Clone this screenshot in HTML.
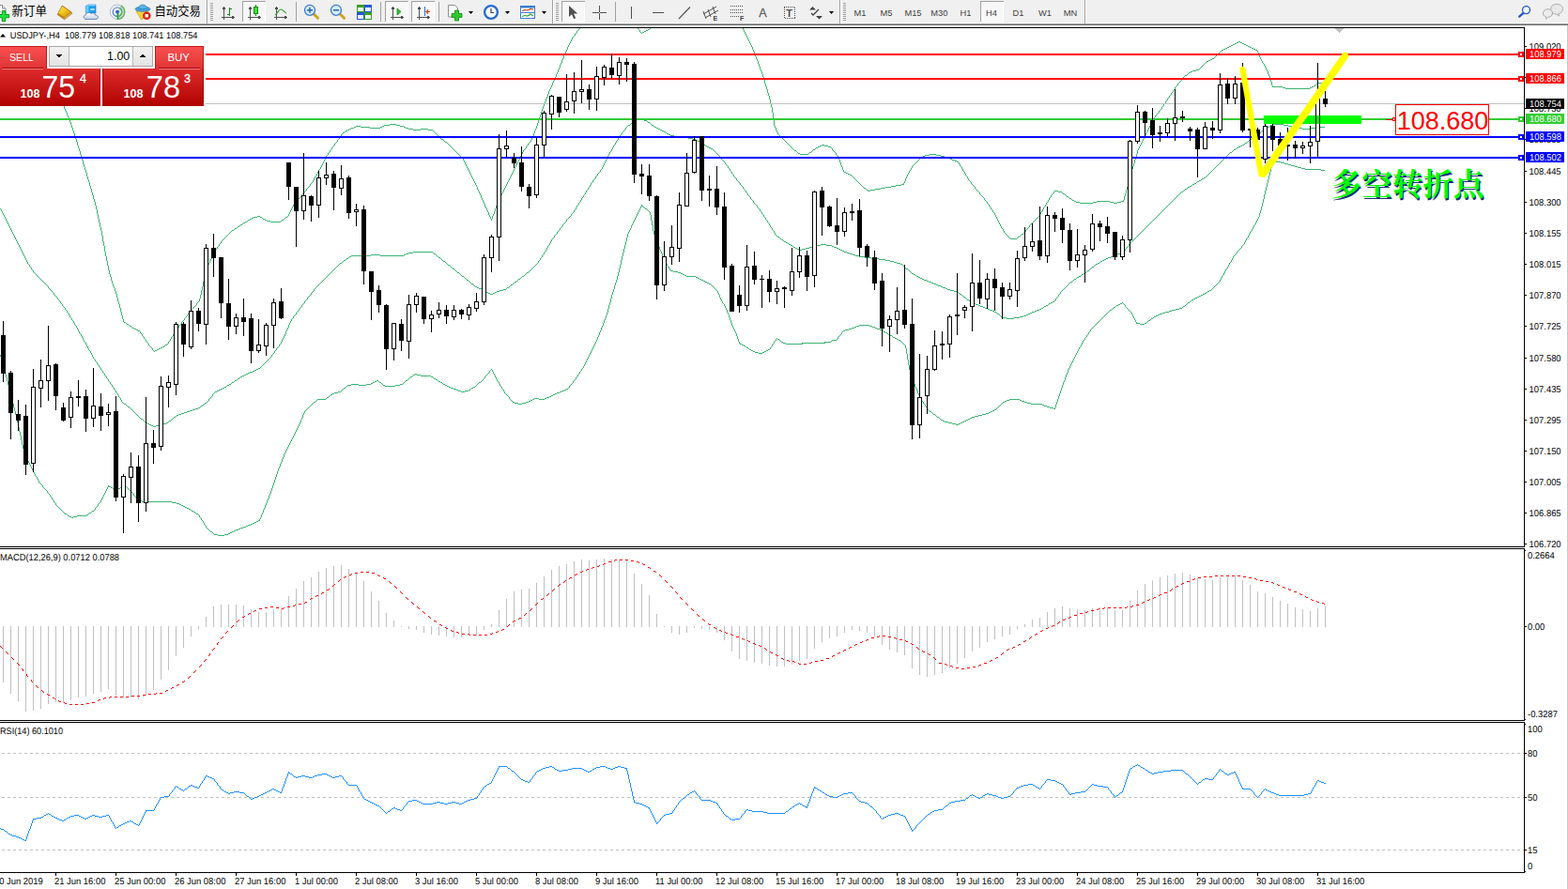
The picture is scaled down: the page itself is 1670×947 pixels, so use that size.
<!DOCTYPE html><html><head><meta charset="utf-8"><title>USDJPY-,H4</title><style>
html,body{margin:0;padding:0;background:#fff;overflow:hidden}body{width:1670px;height:947px;position:relative;font-family:"Liberation Sans",sans-serif}svg{position:absolute;left:0;top:0;display:block}text{font-family:"Liberation Sans",sans-serif}.ax{font-size:9px;fill:#000;text-rendering:geometricPrecision}.c{shape-rendering:crispEdges}
</style></head><body>
<svg width="1670" height="947" viewBox="0 0 1670 947">
<rect width="1670" height="947" fill="#fff"/>
<path class="c" fill="#3cb371" d="M0 378h1v2h-1zM1 223h1v2h-1zM1 380h1v4h-1zM2 225h1v2h-1zM2 384h1v4h-1zM3 227h1v2h-1zM3 388h1v3h-1zM4 229h1v2h-1zM4 391h1v4h-1zM5 231h1v2h-1zM5 395h1v4h-1zM6 233h1v2h-1zM6 399h1v3h-1zM7 235h1v2h-1zM7 402h1v4h-1zM8 237h1v2h-1zM8 406h1v4h-1zM9 239h1v2h-1zM9 410h1v4h-1zM10 241h1v2h-1zM10 414h1v4h-1zM11 243h1v2h-1zM11 418h1v4h-1zM12 245h1v2h-1zM12 422h1v4h-1zM13 247h1v2h-1zM13 426h1v4h-1zM14 249h1v2h-1zM14 430h1v4h-1zM15 251h1v2h-1zM15 434h1v4h-1zM16 253h1v2h-1zM16 438h1v4h-1zM17 255h1v2h-1zM17 442h1v4h-1zM18 257h1v2h-1zM18 446h1v4h-1zM19 259h1v2h-1zM19 450h1v5h-1zM20 261h1v2h-1zM20 455h1v5h-1zM21 263h1v2h-1zM21 460h1v4h-1zM22 265h1v2h-1zM22 464h1v5h-1zM23 267h1v2h-1zM23 469h1v5h-1zM24 269h1v2h-1zM24 474h1v4h-1zM25 271h1v2h-1zM25 478h1v2h-1zM26 273h1v2h-1zM26 480h1v3h-1zM27 275h1v2h-1zM27 483h1v3h-1zM28 277h1v2h-1zM28 486h1v2h-1zM29 279h1v2h-1zM29 488h1v3h-1zM30 491h1v2h-1zM31 282h1v2h-1zM31 493h1v2h-1zM32 495h1v2h-1zM33 285h1v2h-1zM33 497h1v2h-1zM34 499h1v2h-1zM35 288h1v2h-1zM35 501h1v2h-1zM36 503h1v2h-1zM37 505h1v2h-1zM39 508h1v2h-1zM40 510h1v2h-1zM41 512h1v2h-1zM45 517h1v2h-1zM50 70h1v2h-1zM50 523h1v2h-1zM51 72h1v2h-1zM51 305h1v2h-1zM52 74h1v2h-1zM53 76h1v3h-1zM53 527h1v2h-1zM54 79h1v2h-1zM55 81h1v3h-1zM55 530h1v2h-1zM56 84h1v2h-1zM57 86h1v2h-1zM57 312h1v2h-1zM57 533h1v2h-1zM58 88h1v3h-1zM59 91h1v2h-1zM59 536h1v2h-1zM60 93h1v3h-1zM61 96h1v2h-1zM61 317h1v2h-1zM62 98h1v3h-1zM63 101h1v2h-1zM64 103h1v3h-1zM64 321h1v2h-1zM65 106h1v2h-1zM66 108h1v3h-1zM66 324h1v2h-1zM67 111h1v2h-1zM68 113h1v3h-1zM69 116h1v2h-1zM69 328h1v2h-1zM70 118h1v2h-1zM71 120h1v3h-1zM71 331h1v2h-1zM72 123h1v2h-1zM73 125h1v2h-1zM73 334h1v2h-1zM74 127h1v3h-1zM74 336h1v2h-1zM75 130h1v3h-1zM76 133h1v3h-1zM76 339h1v2h-1zM77 136h1v3h-1zM78 139h1v3h-1zM78 342h1v2h-1zM79 142h1v3h-1zM79 344h1v2h-1zM80 145h1v3h-1zM81 148h1v3h-1zM81 347h1v2h-1zM82 151h1v4h-1zM82 349h1v2h-1zM83 155h1v3h-1zM83 351h1v2h-1zM84 158h1v3h-1zM84 353h1v2h-1zM85 161h1v4h-1zM86 165h1v3h-1zM86 356h1v2h-1zM87 168h1v3h-1zM87 358h1v2h-1zM88 171h1v4h-1zM88 360h1v2h-1zM89 175h1v3h-1zM89 362h1v2h-1zM90 178h1v3h-1zM91 181h1v3h-1zM91 365h1v2h-1zM92 184h1v4h-1zM92 367h1v2h-1zM93 188h1v3h-1zM93 369h1v2h-1zM94 191h1v3h-1zM94 371h1v2h-1zM95 194h1v4h-1zM96 198h1v3h-1zM96 374h1v2h-1zM97 201h1v4h-1zM97 376h1v2h-1zM98 205h1v3h-1zM98 378h1v2h-1zM99 208h1v4h-1zM99 380h1v2h-1zM100 212h1v3h-1zM101 215h1v4h-1zM101 383h1v2h-1zM101 541h1v2h-1zM102 219h1v4h-1zM103 223h1v5h-1zM103 386h1v2h-1zM104 228h1v5h-1zM104 537h1v2h-1zM105 233h1v4h-1zM105 389h1v2h-1zM106 237h1v5h-1zM107 242h1v4h-1zM107 392h1v2h-1zM107 533h1v2h-1zM108 246h1v5h-1zM108 531h1v2h-1zM109 251h1v6h-1zM109 395h1v2h-1zM109 529h1v2h-1zM110 257h1v5h-1zM110 527h1v2h-1zM111 262h1v6h-1zM111 398h1v2h-1zM111 525h1v2h-1zM112 268h1v5h-1zM112 523h1v2h-1zM113 273h1v5h-1zM113 401h1v2h-1zM113 521h1v2h-1zM114 278h1v5h-1zM114 519h1v2h-1zM115 283h1v5h-1zM115 404h1v2h-1zM115 517h1v2h-1zM116 288h1v4h-1zM117 292h1v3h-1zM117 407h1v2h-1zM118 295h1v4h-1zM119 299h1v3h-1zM119 410h1v2h-1zM120 302h1v3h-1zM121 305h1v2h-1zM121 413h1v2h-1zM122 307h1v3h-1zM123 310h1v3h-1zM123 416h1v2h-1zM124 313h1v4h-1zM125 317h1v4h-1zM125 419h1v2h-1zM126 321h1v3h-1zM126 421h1v2h-1zM127 324h1v4h-1zM128 328h1v4h-1zM128 424h1v2h-1zM129 332h1v4h-1zM129 426h1v2h-1zM130 336h1v4h-1zM131 340h1v3h-1zM142 526h1v2h-1zM145 530h1v2h-1zM149 353h1v2h-1zM151 356h1v2h-1zM153 359h1v2h-1zM155 362h1v2h-1zM158 366h1v2h-1zM162 371h1v2h-1zM179 364h1v2h-1zM181 361h1v2h-1zM182 359h1v2h-1zM184 356h1v2h-1zM186 353h1v2h-1zM187 351h1v2h-1zM190 347h1v2h-1zM193 343h1v2h-1zM196 339h1v2h-1zM199 335h1v2h-1zM203 330h1v2h-1zM209 323h1v2h-1zM212 318h1v3h-1zM212 549h1v2h-1zM213 314h1v4h-1zM214 309h1v5h-1zM214 552h1v2h-1zM215 305h1v4h-1zM216 300h1v5h-1zM216 555h1v2h-1zM217 296h1v4h-1zM217 557h1v2h-1zM218 291h1v5h-1zM219 287h1v4h-1zM219 560h1v2h-1zM220 284h1v3h-1zM221 282h1v2h-1zM222 280h1v2h-1zM222 425h1v2h-1zM223 278h1v2h-1zM224 276h1v2h-1zM225 274h1v2h-1zM226 272h1v2h-1zM226 420h1v2h-1zM227 270h1v2h-1zM228 268h1v2h-1zM229 266h1v2h-1zM231 263h1v2h-1zM233 260h1v2h-1zM235 257h1v2h-1zM276 553h1v2h-1zM277 551h1v2h-1zM278 548h1v3h-1zM279 546h1v2h-1zM280 543h1v3h-1zM281 541h1v2h-1zM282 538h1v3h-1zM283 536h1v2h-1zM284 533h1v3h-1zM285 531h1v2h-1zM286 528h1v3h-1zM287 526h1v2h-1zM288 523h1v3h-1zM289 378h1v2h-1zM289 520h1v3h-1zM290 517h1v3h-1zM291 514h1v3h-1zM292 374h1v2h-1zM292 511h1v3h-1zM293 508h1v3h-1zM294 371h1v2h-1zM294 505h1v3h-1zM295 502h1v3h-1zM296 499h1v3h-1zM297 367h1v2h-1zM297 497h1v2h-1zM298 494h1v3h-1zM299 364h1v2h-1zM299 492h1v2h-1zM300 362h1v2h-1zM300 489h1v3h-1zM301 360h1v2h-1zM301 487h1v2h-1zM302 358h1v2h-1zM302 484h1v3h-1zM303 356h1v2h-1zM303 482h1v2h-1zM304 353h1v3h-1zM304 480h1v2h-1zM305 351h1v2h-1zM305 478h1v2h-1zM306 349h1v2h-1zM306 476h1v2h-1zM307 228h1v2h-1zM307 346h1v3h-1zM307 474h1v2h-1zM308 226h1v2h-1zM308 344h1v2h-1zM308 472h1v2h-1zM309 224h1v2h-1zM309 342h1v2h-1zM309 470h1v2h-1zM310 222h1v2h-1zM310 340h1v2h-1zM310 468h1v2h-1zM311 220h1v2h-1zM311 466h1v2h-1zM312 218h1v2h-1zM312 337h1v2h-1zM312 464h1v2h-1zM313 462h1v2h-1zM314 460h1v2h-1zM315 214h1v2h-1zM315 333h1v2h-1zM315 458h1v2h-1zM316 456h1v2h-1zM317 454h1v2h-1zM318 329h1v2h-1zM318 452h1v2h-1zM319 450h1v2h-1zM320 447h1v3h-1zM321 207h1v2h-1zM321 325h1v2h-1zM321 445h1v2h-1zM322 442h1v3h-1zM323 440h1v2h-1zM324 321h1v2h-1zM324 438h1v2h-1zM326 201h1v2h-1zM327 317h1v2h-1zM330 196h1v2h-1zM331 312h1v2h-1zM333 192h1v2h-1zM334 190h1v2h-1zM334 308h1v2h-1zM335 188h1v2h-1zM337 185h1v2h-1zM338 183h1v2h-1zM339 181h1v2h-1zM341 178h1v2h-1zM342 176h1v2h-1zM343 174h1v2h-1zM344 172h1v2h-1zM345 170h1v2h-1zM346 168h1v2h-1zM347 166h1v2h-1zM349 163h1v2h-1zM351 160h1v2h-1zM353 157h1v2h-1zM356 153h1v2h-1zM359 149h1v2h-1zM361 146h1v2h-1zM363 143h1v2h-1zM493 169h1v2h-1zM494 171h1v2h-1zM495 173h1v2h-1zM496 175h1v2h-1zM497 177h1v2h-1zM498 179h1v2h-1zM499 181h1v2h-1zM500 183h1v2h-1zM501 185h1v2h-1zM502 187h1v2h-1zM503 189h1v2h-1zM504 191h1v2h-1zM505 193h1v2h-1zM506 195h1v2h-1zM507 197h1v2h-1zM508 199h1v3h-1zM509 202h1v2h-1zM510 204h1v2h-1zM511 206h1v2h-1zM512 208h1v3h-1zM513 211h1v2h-1zM514 213h1v2h-1zM515 215h1v2h-1zM516 217h1v3h-1zM516 401h1v2h-1zM517 220h1v2h-1zM518 222h1v2h-1zM519 224h1v2h-1zM520 226h1v3h-1zM521 229h1v2h-1zM521 395h1v2h-1zM522 231h1v2h-1zM523 233h1v2h-1zM524 230h1v3h-1zM524 394h1v2h-1zM525 228h1v2h-1zM525 396h1v2h-1zM526 225h1v3h-1zM526 398h1v2h-1zM527 222h1v3h-1zM527 400h1v2h-1zM528 219h1v3h-1zM528 402h1v2h-1zM529 217h1v2h-1zM529 404h1v2h-1zM530 215h1v2h-1zM531 212h1v3h-1zM531 407h1v2h-1zM532 210h1v2h-1zM532 409h1v2h-1zM533 208h1v2h-1zM534 206h1v2h-1zM534 412h1v2h-1zM535 204h1v2h-1zM536 202h1v2h-1zM536 415h1v2h-1zM537 200h1v2h-1zM537 417h1v2h-1zM538 198h1v2h-1zM539 196h1v2h-1zM540 194h1v2h-1zM541 192h1v2h-1zM542 190h1v2h-1zM542 423h1v2h-1zM543 188h1v2h-1zM544 186h1v2h-1zM545 184h1v2h-1zM546 182h1v2h-1zM547 180h1v2h-1zM548 178h1v2h-1zM549 176h1v2h-1zM550 174h1v2h-1zM551 172h1v2h-1zM552 170h1v2h-1zM553 168h1v2h-1zM554 166h1v2h-1zM555 164h1v2h-1zM556 162h1v2h-1zM557 160h1v2h-1zM560 156h1v2h-1zM562 153h1v2h-1zM565 149h1v2h-1zM566 147h1v2h-1zM567 145h1v2h-1zM568 142h1v3h-1zM569 139h1v3h-1zM570 137h1v2h-1zM571 134h1v3h-1zM572 131h1v3h-1zM573 128h1v3h-1zM573 278h1v2h-1zM574 125h1v3h-1zM575 122h1v3h-1zM575 275h1v2h-1zM576 119h1v3h-1zM577 116h1v3h-1zM577 272h1v2h-1zM578 113h1v3h-1zM579 111h1v2h-1zM579 269h1v2h-1zM580 108h1v3h-1zM581 105h1v3h-1zM581 266h1v2h-1zM582 103h1v2h-1zM582 264h1v2h-1zM583 100h1v3h-1zM583 262h1v2h-1zM584 97h1v3h-1zM585 95h1v2h-1zM585 259h1v2h-1zM586 93h1v2h-1zM586 257h1v2h-1zM587 91h1v2h-1zM587 255h1v2h-1zM588 88h1v3h-1zM589 86h1v2h-1zM590 84h1v2h-1zM590 251h1v2h-1zM591 82h1v2h-1zM592 79h1v3h-1zM593 77h1v2h-1zM593 247h1v2h-1zM594 74h1v3h-1zM595 72h1v2h-1zM596 69h1v3h-1zM596 243h1v2h-1zM597 67h1v2h-1zM598 64h1v3h-1zM599 62h1v2h-1zM599 239h1v2h-1zM600 59h1v3h-1zM601 57h1v2h-1zM602 55h1v2h-1zM603 53h1v2h-1zM603 234h1v2h-1zM604 50h1v3h-1zM605 48h1v2h-1zM606 46h1v2h-1zM606 411h1v2h-1zM607 44h1v2h-1zM608 42h1v2h-1zM608 228h1v2h-1zM609 40h1v2h-1zM610 406h1v2h-1zM611 224h1v2h-1zM612 36h1v2h-1zM613 221h1v2h-1zM613 402h1v2h-1zM614 33h1v2h-1zM614 219h1v2h-1zM615 399h1v2h-1zM616 216h1v2h-1zM617 396h1v2h-1zM618 213h1v2h-1zM619 211h1v2h-1zM619 393h1v2h-1zM621 208h1v2h-1zM621 390h1v2h-1zM622 388h1v2h-1zM623 205h1v2h-1zM623 386h1v2h-1zM624 203h1v2h-1zM624 384h1v2h-1zM625 382h1v2h-1zM626 200h1v2h-1zM626 380h1v2h-1zM627 378h1v2h-1zM628 197h1v2h-1zM628 376h1v2h-1zM629 195h1v2h-1zM629 374h1v2h-1zM630 372h1v2h-1zM631 192h1v2h-1zM631 370h1v2h-1zM632 368h1v2h-1zM633 366h1v2h-1zM634 188h1v2h-1zM634 364h1v2h-1zM635 362h1v2h-1zM636 185h1v2h-1zM636 359h1v3h-1zM637 357h1v2h-1zM638 354h1v3h-1zM639 181h1v2h-1zM639 352h1v2h-1zM640 349h1v3h-1zM641 178h1v2h-1zM641 347h1v2h-1zM642 176h1v2h-1zM642 344h1v3h-1zM643 174h1v2h-1zM643 341h1v3h-1zM644 172h1v2h-1zM644 339h1v2h-1zM645 170h1v2h-1zM645 336h1v3h-1zM646 168h1v2h-1zM646 333h1v3h-1zM647 166h1v2h-1zM647 329h1v4h-1zM648 164h1v2h-1zM648 325h1v4h-1zM649 162h1v2h-1zM649 322h1v3h-1zM650 318h1v4h-1zM651 159h1v2h-1zM651 314h1v4h-1zM652 157h1v2h-1zM652 311h1v3h-1zM653 155h1v2h-1zM653 308h1v3h-1zM654 304h1v4h-1zM655 152h1v2h-1zM655 301h1v3h-1zM656 150h1v2h-1zM656 298h1v3h-1zM657 294h1v4h-1zM658 147h1v2h-1zM658 290h1v4h-1zM659 145h1v2h-1zM659 286h1v4h-1zM660 282h1v4h-1zM661 277h1v5h-1zM662 141h1v2h-1zM662 273h1v4h-1zM663 269h1v4h-1zM664 265h1v4h-1zM665 261h1v4h-1zM666 136h1v2h-1zM666 257h1v4h-1zM667 253h1v4h-1zM668 249h1v4h-1zM669 247h1v2h-1zM670 245h1v2h-1zM671 243h1v2h-1zM672 240h1v3h-1zM673 238h1v2h-1zM674 236h1v2h-1zM675 234h1v2h-1zM676 232h1v2h-1zM677 230h1v2h-1zM678 228h1v2h-1zM679 226h1v2h-1zM680 224h1v2h-1zM681 32h1v2h-1zM681 222h1v2h-1zM682 220h1v2h-1zM683 218h1v2h-1zM692 226h1v3h-1zM693 229h1v6h-1zM694 235h1v5h-1zM695 240h1v6h-1zM696 246h1v4h-1zM697 250h1v2h-1zM698 252h1v3h-1zM699 255h1v3h-1zM700 258h1v2h-1zM701 260h1v3h-1zM702 263h1v3h-1zM703 266h1v2h-1zM704 268h1v2h-1zM705 270h1v3h-1zM706 273h1v2h-1zM707 275h1v2h-1zM708 277h1v2h-1zM709 279h1v2h-1zM710 281h1v2h-1zM712 284h1v2h-1zM713 286h1v2h-1zM764 310h1v2h-1zM765 312h1v2h-1zM766 314h1v3h-1zM767 317h1v2h-1zM768 168h1v2h-1zM768 319h1v2h-1zM769 321h1v2h-1zM771 324h1v2h-1zM772 173h1v2h-1zM772 326h1v2h-1zM773 328h1v2h-1zM774 330h1v3h-1zM775 177h1v2h-1zM775 333h1v2h-1zM776 335h1v3h-1zM777 180h1v2h-1zM777 338h1v3h-1zM778 341h1v3h-1zM779 183h1v2h-1zM779 344h1v3h-1zM780 347h1v2h-1zM781 186h1v2h-1zM781 349h1v2h-1zM782 351h1v2h-1zM783 353h1v2h-1zM784 190h1v2h-1zM784 355h1v3h-1zM785 358h1v3h-1zM786 361h1v3h-1zM787 364h1v2h-1zM788 195h1v2h-1zM791 30h1v2h-1zM791 199h1v2h-1zM792 32h1v2h-1zM793 34h1v2h-1zM794 36h1v2h-1zM794 203h1v2h-1zM795 38h1v2h-1zM796 40h1v2h-1zM796 206h1v2h-1zM797 42h1v2h-1zM798 44h1v2h-1zM799 46h1v2h-1zM799 210h1v2h-1zM800 48h1v2h-1zM801 50h1v3h-1zM802 53h1v2h-1zM802 214h1v2h-1zM803 55h1v2h-1zM804 57h1v3h-1zM805 60h1v3h-1zM806 63h1v2h-1zM806 219h1v2h-1zM807 65h1v3h-1zM808 68h1v3h-1zM809 71h1v3h-1zM809 223h1v2h-1zM810 74h1v2h-1zM811 76h1v3h-1zM811 226h1v2h-1zM812 79h1v3h-1zM813 82h1v3h-1zM813 229h1v2h-1zM814 85h1v4h-1zM815 89h1v3h-1zM815 232h1v2h-1zM816 92h1v3h-1zM817 95h1v4h-1zM817 235h1v2h-1zM818 99h1v3h-1zM819 102h1v4h-1zM819 238h1v2h-1zM820 106h1v4h-1zM820 240h1v2h-1zM820 370h1v2h-1zM821 110h1v4h-1zM822 114h1v6h-1zM822 243h1v2h-1zM822 367h1v2h-1zM823 120h1v8h-1zM824 128h1v6h-1zM824 246h1v2h-1zM824 364h1v2h-1zM825 134h1v2h-1zM825 248h1v2h-1zM826 136h1v3h-1zM826 361h1v2h-1zM827 139h1v2h-1zM828 141h1v2h-1zM854 365h1v2h-1zM878 364h1v2h-1zM886 158h1v2h-1zM890 163h1v2h-1zM892 166h1v2h-1zM892 359h1v2h-1zM893 168h1v2h-1zM894 170h1v3h-1zM895 173h1v3h-1zM896 176h1v2h-1zM896 354h1v2h-1zM897 178h1v3h-1zM898 181h1v2h-1zM962 195h1v2h-1zM963 193h1v2h-1zM964 190h1v3h-1zM964 368h1v3h-1zM965 188h1v2h-1zM965 371h1v6h-1zM966 186h1v2h-1zM966 377h1v6h-1zM967 184h1v2h-1zM967 383h1v6h-1zM968 182h1v2h-1zM968 389h1v5h-1zM969 394h1v3h-1zM970 179h1v2h-1zM970 397h1v3h-1zM971 177h1v2h-1zM971 400h1v3h-1zM972 403h1v3h-1zM973 406h1v3h-1zM974 409h1v3h-1zM975 412h1v2h-1zM976 414h1v2h-1zM977 416h1v3h-1zM978 419h1v2h-1zM979 421h1v2h-1zM980 423h1v2h-1zM981 425h1v2h-1zM983 428h1v2h-1zM985 431h1v2h-1zM987 434h1v2h-1zM1021 173h1v2h-1zM1022 175h1v2h-1zM1024 178h1v2h-1zM1025 180h1v2h-1zM1027 183h1v2h-1zM1028 185h1v2h-1zM1030 188h1v2h-1zM1031 190h1v2h-1zM1034 194h1v2h-1zM1038 199h1v2h-1zM1043 205h1v2h-1zM1048 211h1v2h-1zM1051 215h1v2h-1zM1053 218h1v2h-1zM1055 221h1v2h-1zM1057 224h1v2h-1zM1059 227h1v2h-1zM1060 229h1v2h-1zM1061 231h1v2h-1zM1062 233h1v2h-1zM1063 235h1v2h-1zM1064 237h1v2h-1zM1065 239h1v2h-1zM1066 241h1v2h-1zM1068 244h1v2h-1zM1069 246h1v2h-1zM1092 245h1v2h-1zM1096 240h1v2h-1zM1107 228h1v2h-1zM1108 226h1v2h-1zM1110 223h1v2h-1zM1111 221h1v2h-1zM1113 218h1v2h-1zM1114 216h1v2h-1zM1116 213h1v2h-1zM1117 211h1v2h-1zM1119 208h1v2h-1zM1122 204h1v2h-1zM1123 434h1v2h-1zM1124 318h1v2h-1zM1124 431h1v3h-1zM1125 428h1v3h-1zM1126 425h1v3h-1zM1127 314h1v2h-1zM1127 422h1v3h-1zM1128 419h1v3h-1zM1129 311h1v2h-1zM1129 416h1v3h-1zM1130 413h1v3h-1zM1131 410h1v3h-1zM1132 407h1v3h-1zM1133 405h1v2h-1zM1134 402h1v3h-1zM1135 399h1v3h-1zM1136 397h1v2h-1zM1137 394h1v3h-1zM1138 392h1v2h-1zM1139 390h1v2h-1zM1140 388h1v2h-1zM1141 386h1v2h-1zM1142 384h1v2h-1zM1143 382h1v2h-1zM1144 380h1v2h-1zM1145 378h1v2h-1zM1146 376h1v2h-1zM1147 374h1v2h-1zM1148 372h1v2h-1zM1149 370h1v2h-1zM1151 367h1v2h-1zM1152 365h1v2h-1zM1153 363h1v2h-1zM1155 360h1v2h-1zM1157 357h1v2h-1zM1159 354h1v2h-1zM1161 351h1v2h-1zM1196 213h1v2h-1zM1197 209h1v4h-1zM1198 206h1v3h-1zM1198 265h1v2h-1zM1198 325h1v2h-1zM1199 202h1v4h-1zM1200 199h1v3h-1zM1201 195h1v4h-1zM1202 191h1v4h-1zM1202 260h1v2h-1zM1203 188h1v3h-1zM1204 184h1v4h-1zM1205 180h1v4h-1zM1205 333h1v2h-1zM1206 177h1v3h-1zM1206 335h1v2h-1zM1207 174h1v3h-1zM1207 337h1v2h-1zM1208 170h1v4h-1zM1208 339h1v2h-1zM1209 167h1v3h-1zM1209 341h1v2h-1zM1210 164h1v3h-1zM1210 343h1v2h-1zM1211 160h1v4h-1zM1212 158h1v2h-1zM1213 156h1v2h-1zM1214 154h1v2h-1zM1215 152h1v2h-1zM1216 150h1v2h-1zM1217 148h1v2h-1zM1218 146h1v2h-1zM1219 144h1v2h-1zM1220 142h1v2h-1zM1221 140h1v2h-1zM1222 138h1v2h-1zM1223 136h1v2h-1zM1224 134h1v2h-1zM1225 132h1v2h-1zM1226 130h1v2h-1zM1227 128h1v2h-1zM1228 126h1v2h-1zM1230 123h1v2h-1zM1234 118h1v2h-1zM1237 114h1v2h-1zM1239 111h1v2h-1zM1241 108h1v2h-1zM1243 105h1v2h-1zM1245 102h1v2h-1zM1247 99h1v2h-1zM1249 96h1v2h-1zM1251 93h1v2h-1zM1254 89h1v2h-1zM1258 84h1v2h-1zM1299 298h1v2h-1zM1300 296h1v2h-1zM1301 294h1v2h-1zM1303 291h1v2h-1zM1304 289h1v2h-1zM1305 287h1v2h-1zM1307 284h1v2h-1zM1308 282h1v2h-1zM1309 280h1v2h-1zM1311 277h1v2h-1zM1312 275h1v2h-1zM1313 273h1v2h-1zM1317 268h1v2h-1zM1322 262h1v2h-1zM1325 258h1v2h-1zM1326 256h1v2h-1zM1327 254h1v2h-1zM1329 251h1v2h-1zM1330 249h1v2h-1zM1331 247h1v2h-1zM1333 244h1v2h-1zM1334 242h1v2h-1zM1335 240h1v2h-1zM1337 237h1v2h-1zM1338 235h1v2h-1zM1339 54h1v2h-1zM1339 233h1v2h-1zM1340 56h1v2h-1zM1340 231h1v2h-1zM1341 58h1v3h-1zM1341 227h1v4h-1zM1342 61h1v2h-1zM1342 224h1v3h-1zM1343 63h1v2h-1zM1343 220h1v4h-1zM1344 65h1v2h-1zM1344 216h1v4h-1zM1345 212h1v4h-1zM1346 68h1v2h-1zM1346 207h1v5h-1zM1347 70h1v2h-1zM1347 203h1v4h-1zM1348 72h1v2h-1zM1348 199h1v4h-1zM1349 74h1v2h-1zM1349 195h1v4h-1zM1350 76h1v3h-1zM1350 191h1v4h-1zM1351 79h1v2h-1zM1351 187h1v4h-1zM1352 81h1v3h-1zM1352 183h1v4h-1zM1353 84h1v3h-1zM1353 179h1v4h-1zM1354 87h1v4h-1zM1354 176h1v3h-1zM1355 91h1v2h-1zM617 30h1v1h-1zM679 30h1v1h-1zM692 30h1v1h-1zM616 31h1v1h-1zM680 31h1v1h-1zM690 31h2v1h-2zM615 32h1v1h-1zM688 32h2v1h-2zM686 33h2v1h-2zM682 34h1v1h-1zM684 34h2v1h-2zM613 35h1v1h-1zM683 35h1v1h-1zM611 38h1v1h-1zM610 39h1v1h-1zM1319 44h2v1h-2zM1317 45h2v1h-2zM1321 45h2v1h-2zM1315 46h2v1h-2zM1323 46h2v1h-2zM1313 47h2v1h-2zM1325 47h2v1h-2zM1311 48h2v1h-2zM1327 48h2v1h-2zM1309 49h2v1h-2zM1329 49h2v1h-2zM1307 50h2v1h-2zM1331 50h2v1h-2zM1305 51h2v1h-2zM1333 51h2v1h-2zM1303 52h2v1h-2zM1335 52h2v1h-2zM1301 53h2v1h-2zM1337 53h2v1h-2zM1300 54h1v1h-1zM1299 55h1v1h-1zM1298 56h1v1h-1zM1297 57h1v1h-1zM1296 58h1v1h-1zM1295 59h1v1h-1zM1294 60h1v1h-1zM1293 61h1v1h-1zM1291 62h2v1h-2zM1289 63h2v1h-2zM1287 64h2v1h-2zM1285 65h2v1h-2zM1284 66h1v1h-1zM1283 67h1v1h-1zM1345 67h1v1h-1zM1282 68h1v1h-1zM1281 69h1v1h-1zM1280 70h1v1h-1zM1279 71h1v1h-1zM1278 72h1v1h-1zM1277 73h1v1h-1zM1274 74h3v1h-3zM1270 75h4v1h-4zM1268 76h2v1h-2zM1266 77h2v1h-2zM1265 78h1v1h-1zM1264 79h1v1h-1zM1262 80h2v1h-2zM1261 81h1v1h-1zM1260 82h1v1h-1zM1259 83h1v1h-1zM1257 86h1v1h-1zM1256 87h1v1h-1zM1255 88h1v1h-1zM1404 88h7v1h-7zM1402 89h2v1h-2zM1401 90h1v1h-1zM1253 91h1v1h-1zM1399 91h2v1h-2zM1252 92h1v1h-1zM1356 92h10v1h-10zM1397 92h2v1h-2zM1366 93h3v1h-3zM1395 93h2v1h-2zM1369 94h26v1h-26zM1250 95h1v1h-1zM1248 98h1v1h-1zM1246 101h1v1h-1zM1244 104h1v1h-1zM1242 107h1v1h-1zM1240 110h1v1h-1zM1238 113h1v1h-1zM1236 116h1v1h-1zM1235 117h1v1h-1zM1233 120h1v1h-1zM1232 121h1v1h-1zM1231 122h1v1h-1zM1229 125h1v1h-1zM680 126h2v1h-2zM678 127h2v1h-2zM682 127h4v1h-4zM677 128h1v1h-1zM686 128h3v1h-3zM675 129h2v1h-2zM689 129h1v1h-1zM674 130h1v1h-1zM690 130h2v1h-2zM672 131h2v1h-2zM692 131h1v1h-1zM415 132h7v1h-7zM671 132h1v1h-1zM693 132h1v1h-1zM1355 132h12v1h-12zM409 133h6v1h-6zM422 133h4v1h-4zM669 133h2v1h-2zM694 133h2v1h-2zM1353 133h2v1h-2zM1367 133h5v1h-5zM379 134h5v1h-5zM407 134h2v1h-2zM426 134h4v1h-4zM668 134h1v1h-1zM696 134h1v1h-1zM1352 134h1v1h-1zM1372 134h4v1h-4zM377 135h2v1h-2zM384 135h10v1h-10zM405 135h2v1h-2zM430 135h2v1h-2zM667 135h1v1h-1zM697 135h2v1h-2zM1350 135h2v1h-2zM1376 135h4v1h-4zM1405 135h6v1h-6zM374 136h3v1h-3zM394 136h11v1h-11zM432 136h3v1h-3zM699 136h2v1h-2zM1349 136h1v1h-1zM1380 136h7v1h-7zM1396 136h9v1h-9zM372 137h2v1h-2zM435 137h5v1h-5zM448 137h8v1h-8zM701 137h2v1h-2zM1347 137h2v1h-2zM1387 137h9v1h-9zM370 138h2v1h-2zM440 138h8v1h-8zM456 138h5v1h-5zM665 138h1v1h-1zM703 138h2v1h-2zM1346 138h1v1h-1zM368 139h2v1h-2zM461 139h1v1h-1zM664 139h1v1h-1zM705 139h2v1h-2zM1344 139h2v1h-2zM367 140h1v1h-1zM462 140h1v1h-1zM663 140h1v1h-1zM707 140h2v1h-2zM1343 140h1v1h-1zM365 141h2v1h-2zM463 141h1v1h-1zM709 141h1v1h-1zM1341 141h2v1h-2zM364 142h1v1h-1zM464 142h1v1h-1zM710 142h2v1h-2zM1340 142h1v1h-1zM465 143h1v1h-1zM661 143h1v1h-1zM712 143h2v1h-2zM829 143h1v1h-1zM1338 143h2v1h-2zM466 144h1v1h-1zM660 144h1v1h-1zM714 144h4v1h-4zM830 144h1v1h-1zM1337 144h1v1h-1zM362 145h1v1h-1zM467 145h1v1h-1zM718 145h8v1h-8zM831 145h1v1h-1zM1336 145h1v1h-1zM468 146h1v1h-1zM726 146h7v1h-7zM832 146h1v1h-1zM1334 146h2v1h-2zM469 147h1v1h-1zM733 147h5v1h-5zM833 147h1v1h-1zM1333 147h1v1h-1zM360 148h1v1h-1zM470 148h2v1h-2zM738 148h3v1h-3zM834 148h1v1h-1zM1332 148h1v1h-1zM472 149h1v1h-1zM657 149h1v1h-1zM741 149h2v1h-2zM835 149h1v1h-1zM1330 149h2v1h-2zM473 150h1v1h-1zM743 150h2v1h-2zM836 150h1v1h-1zM1329 150h1v1h-1zM358 151h1v1h-1zM474 151h2v1h-2zM564 151h1v1h-1zM745 151h1v1h-1zM837 151h1v1h-1zM1328 151h1v1h-1zM357 152h1v1h-1zM476 152h1v1h-1zM563 152h1v1h-1zM746 152h2v1h-2zM838 152h1v1h-1zM1326 152h2v1h-2zM477 153h1v1h-1zM748 153h2v1h-2zM839 153h1v1h-1zM1325 153h1v1h-1zM478 154h1v1h-1zM654 154h1v1h-1zM750 154h1v1h-1zM840 154h1v1h-1zM875 154h3v1h-3zM1323 154h2v1h-2zM355 155h1v1h-1zM479 155h1v1h-1zM561 155h1v1h-1zM751 155h2v1h-2zM841 155h1v1h-1zM873 155h2v1h-2zM878 155h4v1h-4zM1321 155h2v1h-2zM354 156h1v1h-1zM480 156h1v1h-1zM753 156h2v1h-2zM842 156h1v1h-1zM871 156h2v1h-2zM882 156h3v1h-3zM1319 156h2v1h-2zM481 157h1v1h-1zM755 157h2v1h-2zM843 157h1v1h-1zM869 157h2v1h-2zM885 157h1v1h-1zM1317 157h2v1h-2zM482 158h1v1h-1zM559 158h1v1h-1zM757 158h2v1h-2zM844 158h1v1h-1zM868 158h1v1h-1zM1316 158h1v1h-1zM352 159h1v1h-1zM483 159h1v1h-1zM558 159h1v1h-1zM759 159h1v1h-1zM845 159h1v1h-1zM866 159h2v1h-2zM1314 159h2v1h-2zM484 160h1v1h-1zM760 160h1v1h-1zM846 160h2v1h-2zM865 160h1v1h-1zM887 160h1v1h-1zM1313 160h1v1h-1zM485 161h1v1h-1zM650 161h1v1h-1zM761 161h1v1h-1zM848 161h1v1h-1zM864 161h1v1h-1zM888 161h1v1h-1zM1312 161h1v1h-1zM350 162h1v1h-1zM486 162h1v1h-1zM762 162h1v1h-1zM849 162h1v1h-1zM862 162h2v1h-2zM889 162h1v1h-1zM1310 162h2v1h-2zM487 163h1v1h-1zM763 163h1v1h-1zM850 163h2v1h-2zM861 163h1v1h-1zM1309 163h1v1h-1zM488 164h1v1h-1zM764 164h1v1h-1zM852 164h9v1h-9zM990 164h7v1h-7zM1308 164h1v1h-1zM348 165h1v1h-1zM489 165h1v1h-1zM765 165h1v1h-1zM891 165h1v1h-1zM985 165h5v1h-5zM997 165h5v1h-5zM1307 165h1v1h-1zM490 166h1v1h-1zM766 166h1v1h-1zM983 166h2v1h-2zM1002 166h4v1h-4zM1306 166h1v1h-1zM491 167h1v1h-1zM767 167h1v1h-1zM981 167h2v1h-2zM1006 167h3v1h-3zM1305 167h1v1h-1zM492 168h1v1h-1zM980 168h1v1h-1zM1009 168h3v1h-3zM1304 168h1v1h-1zM979 169h1v1h-1zM1012 169h2v1h-2zM1303 169h1v1h-1zM769 170h1v1h-1zM978 170h1v1h-1zM1014 170h3v1h-3zM1302 170h1v1h-1zM770 171h1v1h-1zM977 171h1v1h-1zM1017 171h2v1h-2zM1301 171h1v1h-1zM771 172h1v1h-1zM976 172h1v1h-1zM1019 172h2v1h-2zM1300 172h1v1h-1zM1358 172h6v1h-6zM975 173h1v1h-1zM1299 173h1v1h-1zM1357 173h1v1h-1zM1364 173h4v1h-4zM974 174h1v1h-1zM1298 174h1v1h-1zM1356 174h1v1h-1zM1368 174h4v1h-4zM773 175h1v1h-1zM973 175h1v1h-1zM1297 175h1v1h-1zM1355 175h1v1h-1zM1372 175h3v1h-3zM774 176h1v1h-1zM972 176h1v1h-1zM1296 176h1v1h-1zM1375 176h4v1h-4zM1023 177h1v1h-1zM1295 177h1v1h-1zM1379 177h3v1h-3zM1294 178h1v1h-1zM1382 178h4v1h-4zM776 179h1v1h-1zM1293 179h1v1h-1zM1386 179h4v1h-4zM340 180h1v1h-1zM640 180h1v1h-1zM1292 180h1v1h-1zM1390 180h17v1h-17zM969 181h1v1h-1zM1291 181h1v1h-1zM1407 181h4v1h-4zM778 182h1v1h-1zM1026 182h1v1h-1zM1290 182h1v1h-1zM638 183h1v1h-1zM899 183h2v1h-2zM1289 183h1v1h-1zM637 184h1v1h-1zM901 184h2v1h-2zM1288 184h1v1h-1zM780 185h1v1h-1zM903 185h2v1h-2zM1287 185h1v1h-1zM905 186h2v1h-2zM1286 186h1v1h-1zM336 187h1v1h-1zM635 187h1v1h-1zM907 187h1v1h-1zM1029 187h1v1h-1zM1285 187h1v1h-1zM782 188h1v1h-1zM908 188h1v1h-1zM1284 188h1v1h-1zM783 189h1v1h-1zM909 189h1v1h-1zM1282 189h2v1h-2zM633 190h1v1h-1zM910 190h1v1h-1zM1280 190h2v1h-2zM632 191h1v1h-1zM911 191h1v1h-1zM1279 191h1v1h-1zM785 192h1v1h-1zM912 192h1v1h-1zM1032 192h1v1h-1zM1277 192h2v1h-2zM786 193h1v1h-1zM913 193h1v1h-1zM1033 193h1v1h-1zM1275 193h2v1h-2zM332 194h1v1h-1zM630 194h1v1h-1zM787 194h1v1h-1zM914 194h1v1h-1zM1274 194h1v1h-1zM331 195h1v1h-1zM915 195h1v1h-1zM1272 195h2v1h-2zM916 196h1v1h-1zM960 196h2v1h-2zM1035 196h1v1h-1zM1270 196h2v1h-2zM789 197h1v1h-1zM917 197h1v1h-1zM954 197h6v1h-6zM1036 197h1v1h-1zM1269 197h1v1h-1zM329 198h1v1h-1zM790 198h1v1h-1zM918 198h1v1h-1zM949 198h5v1h-5zM1037 198h1v1h-1zM1267 198h2v1h-2zM328 199h1v1h-1zM627 199h1v1h-1zM919 199h1v1h-1zM943 199h6v1h-6zM1265 199h2v1h-2zM327 200h1v1h-1zM920 200h2v1h-2zM938 200h5v1h-5zM1264 200h1v1h-1zM792 201h1v1h-1zM922 201h1v1h-1zM932 201h6v1h-6zM1039 201h1v1h-1zM1262 201h2v1h-2zM625 202h1v1h-1zM793 202h1v1h-1zM923 202h1v1h-1zM927 202h5v1h-5zM1040 202h1v1h-1zM1261 202h1v1h-1zM325 203h1v1h-1zM924 203h3v1h-3zM1041 203h1v1h-1zM1123 203h4v1h-4zM1260 203h1v1h-1zM324 204h1v1h-1zM1042 204h1v1h-1zM1127 204h4v1h-4zM1258 204h2v1h-2zM323 205h1v1h-1zM795 205h1v1h-1zM1131 205h1v1h-1zM1257 205h1v1h-1zM322 206h1v1h-1zM1121 206h1v1h-1zM1132 206h2v1h-2zM1256 206h1v1h-1zM622 207h1v1h-1zM1044 207h1v1h-1zM1120 207h1v1h-1zM1134 207h1v1h-1zM1255 207h1v1h-1zM797 208h1v1h-1zM1045 208h1v1h-1zM1135 208h1v1h-1zM1254 208h1v1h-1zM320 209h1v1h-1zM798 209h1v1h-1zM1046 209h1v1h-1zM1136 209h2v1h-2zM1253 209h1v1h-1zM319 210h1v1h-1zM620 210h1v1h-1zM1047 210h1v1h-1zM1118 210h1v1h-1zM1138 210h1v1h-1zM1252 210h1v1h-1zM318 211h1v1h-1zM1139 211h2v1h-2zM1251 211h1v1h-1zM317 212h1v1h-1zM800 212h1v1h-1zM1141 212h1v1h-1zM1250 212h1v1h-1zM316 213h1v1h-1zM801 213h1v1h-1zM1049 213h1v1h-1zM1142 213h2v1h-2zM1249 213h1v1h-1zM1050 214h1v1h-1zM1144 214h2v1h-2zM1168 214h14v1h-14zM1194 214h2v1h-2zM1248 214h1v1h-1zM617 215h1v1h-1zM1115 215h1v1h-1zM1146 215h4v1h-4zM1164 215h4v1h-4zM1182 215h4v1h-4zM1190 215h4v1h-4zM1247 215h1v1h-1zM314 216h1v1h-1zM803 216h1v1h-1zM1150 216h14v1h-14zM1186 216h4v1h-4zM1246 216h1v1h-1zM313 217h1v1h-1zM804 217h1v1h-1zM1052 217h1v1h-1zM1245 217h1v1h-1zM615 218h1v1h-1zM805 218h1v1h-1zM1244 218h1v1h-1zM684 219h1v1h-1zM1243 219h1v1h-1zM685 220h1v1h-1zM1054 220h1v1h-1zM1112 220h1v1h-1zM1242 220h1v1h-1zM686 221h1v1h-1zM807 221h1v1h-1zM1241 221h1v1h-1zM0 222h1v1h-1zM687 222h2v1h-2zM808 222h1v1h-1zM1240 222h1v1h-1zM612 223h1v1h-1zM689 223h1v1h-1zM1056 223h1v1h-1zM1239 223h1v1h-1zM690 224h1v1h-1zM1238 224h1v1h-1zM691 225h1v1h-1zM810 225h1v1h-1zM1109 225h1v1h-1zM1237 225h1v1h-1zM610 226h1v1h-1zM1058 226h1v1h-1zM1236 226h1v1h-1zM609 227h1v1h-1zM1235 227h1v1h-1zM812 228h1v1h-1zM1234 228h1v1h-1zM1233 229h1v1h-1zM274 230h3v1h-3zM306 230h1v1h-1zM607 230h1v1h-1zM1106 230h1v1h-1zM1232 230h1v1h-1zM270 231h4v1h-4zM277 231h2v1h-2zM304 231h2v1h-2zM606 231h1v1h-1zM814 231h1v1h-1zM1105 231h1v1h-1zM1231 231h1v1h-1zM268 232h2v1h-2zM279 232h1v1h-1zM303 232h1v1h-1zM605 232h1v1h-1zM1104 232h1v1h-1zM1230 232h1v1h-1zM266 233h2v1h-2zM280 233h2v1h-2zM302 233h1v1h-1zM604 233h1v1h-1zM1103 233h1v1h-1zM1229 233h1v1h-1zM264 234h2v1h-2zM282 234h2v1h-2zM300 234h2v1h-2zM816 234h1v1h-1zM1102 234h1v1h-1zM1228 234h1v1h-1zM263 235h1v1h-1zM284 235h4v1h-4zM299 235h1v1h-1zM1101 235h1v1h-1zM1227 235h1v1h-1zM261 236h2v1h-2zM288 236h11v1h-11zM602 236h1v1h-1zM1100 236h1v1h-1zM1226 236h1v1h-1zM259 237h2v1h-2zM601 237h1v1h-1zM818 237h1v1h-1zM1099 237h1v1h-1zM1225 237h1v1h-1zM258 238h1v1h-1zM600 238h1v1h-1zM1098 238h1v1h-1zM1224 238h1v1h-1zM256 239h2v1h-2zM1097 239h1v1h-1zM1223 239h1v1h-1zM1336 239h1v1h-1zM255 240h1v1h-1zM1222 240h1v1h-1zM253 241h2v1h-2zM598 241h1v1h-1zM1221 241h1v1h-1zM252 242h1v1h-1zM597 242h1v1h-1zM821 242h1v1h-1zM1095 242h1v1h-1zM1220 242h1v1h-1zM250 243h2v1h-2zM1067 243h1v1h-1zM1094 243h1v1h-1zM1219 243h1v1h-1zM249 244h1v1h-1zM1093 244h1v1h-1zM1218 244h1v1h-1zM247 245h2v1h-2zM595 245h1v1h-1zM823 245h1v1h-1zM1217 245h1v1h-1zM246 246h1v1h-1zM594 246h1v1h-1zM1216 246h1v1h-1zM1332 246h1v1h-1zM245 247h1v1h-1zM1091 247h1v1h-1zM1215 247h1v1h-1zM244 248h1v1h-1zM1070 248h1v1h-1zM1090 248h1v1h-1zM1214 248h1v1h-1zM243 249h1v1h-1zM592 249h1v1h-1zM1071 249h1v1h-1zM1088 249h2v1h-2zM1213 249h1v1h-1zM242 250h1v1h-1zM591 250h1v1h-1zM826 250h1v1h-1zM1072 250h1v1h-1zM1087 250h1v1h-1zM1212 250h1v1h-1zM241 251h1v1h-1zM827 251h1v1h-1zM1073 251h1v1h-1zM1086 251h1v1h-1zM1211 251h1v1h-1zM240 252h1v1h-1zM828 252h2v1h-2zM1074 252h1v1h-1zM1084 252h2v1h-2zM1210 252h1v1h-1zM239 253h1v1h-1zM589 253h1v1h-1zM830 253h1v1h-1zM1075 253h1v1h-1zM1083 253h1v1h-1zM1209 253h1v1h-1zM1328 253h1v1h-1zM238 254h1v1h-1zM588 254h1v1h-1zM831 254h1v1h-1zM1076 254h7v1h-7zM1208 254h1v1h-1zM237 255h1v1h-1zM832 255h2v1h-2zM1207 255h1v1h-1zM236 256h1v1h-1zM834 256h1v1h-1zM1206 256h1v1h-1zM835 257h2v1h-2zM1205 257h1v1h-1zM837 258h2v1h-2zM1204 258h1v1h-1zM234 259h1v1h-1zM839 259h1v1h-1zM1203 259h1v1h-1zM840 260h2v1h-2zM874 260h6v1h-6zM1324 260h1v1h-1zM584 261h1v1h-1zM842 261h2v1h-2zM870 261h4v1h-4zM880 261h6v1h-6zM1323 261h1v1h-1zM232 262h1v1h-1zM844 262h1v1h-1zM866 262h4v1h-4zM886 262h2v1h-2zM1201 262h1v1h-1zM845 263h2v1h-2zM862 263h4v1h-4zM888 263h3v1h-3zM1200 263h1v1h-1zM847 264h2v1h-2zM858 264h4v1h-4zM891 264h2v1h-2zM1199 264h1v1h-1zM1321 264h1v1h-1zM230 265h1v1h-1zM849 265h2v1h-2zM854 265h4v1h-4zM893 265h2v1h-2zM1320 265h1v1h-1zM851 266h3v1h-3zM895 266h2v1h-2zM1319 266h1v1h-1zM897 267h2v1h-2zM1197 267h1v1h-1zM1318 267h1v1h-1zM440 268h21v1h-21zM580 268h1v1h-1zM899 268h3v1h-3zM1195 268h2v1h-2zM435 269h5v1h-5zM461 269h1v1h-1zM902 269h3v1h-3zM1193 269h2v1h-2zM432 270h3v1h-3zM462 270h2v1h-2zM905 270h3v1h-3zM1190 270h3v1h-3zM1316 270h1v1h-1zM395 271h10v1h-10zM430 271h2v1h-2zM464 271h1v1h-1zM578 271h1v1h-1zM908 271h3v1h-3zM1188 271h2v1h-2zM1315 271h1v1h-1zM374 272h21v1h-21zM405 272h25v1h-25zM465 272h1v1h-1zM911 272h4v1h-4zM1185 272h3v1h-3zM1314 272h1v1h-1zM372 273h2v1h-2zM466 273h1v1h-1zM915 273h6v1h-6zM1183 273h2v1h-2zM371 274h1v1h-1zM467 274h2v1h-2zM576 274h1v1h-1zM921 274h7v1h-7zM1180 274h3v1h-3zM369 275h2v1h-2zM469 275h1v1h-1zM928 275h8v1h-8zM1178 275h2v1h-2zM368 276h1v1h-1zM470 276h1v1h-1zM936 276h7v1h-7zM1176 276h2v1h-2zM366 277h2v1h-2zM471 277h1v1h-1zM574 277h1v1h-1zM943 277h5v1h-5zM1174 277h2v1h-2zM365 278h1v1h-1zM472 278h2v1h-2zM948 278h4v1h-4zM1172 278h2v1h-2zM364 279h1v1h-1zM474 279h1v1h-1zM952 279h3v1h-3zM1171 279h1v1h-1zM1310 279h1v1h-1zM362 280h2v1h-2zM475 280h1v1h-1zM572 280h1v1h-1zM955 280h4v1h-4zM1169 280h2v1h-2zM30 281h1v1h-1zM361 281h1v1h-1zM476 281h1v1h-1zM571 281h1v1h-1zM959 281h2v1h-2zM1167 281h2v1h-2zM360 282h1v1h-1zM477 282h2v1h-2zM570 282h1v1h-1zM961 282h1v1h-1zM1166 282h1v1h-1zM359 283h1v1h-1zM479 283h1v1h-1zM569 283h1v1h-1zM711 283h1v1h-1zM962 283h1v1h-1zM1165 283h1v1h-1zM32 284h1v1h-1zM358 284h1v1h-1zM480 284h1v1h-1zM568 284h1v1h-1zM963 284h1v1h-1zM1163 284h2v1h-2zM357 285h1v1h-1zM481 285h1v1h-1zM567 285h1v1h-1zM964 285h1v1h-1zM1162 285h1v1h-1zM356 286h1v1h-1zM482 286h2v1h-2zM566 286h1v1h-1zM965 286h2v1h-2zM1161 286h1v1h-1zM1306 286h1v1h-1zM34 287h1v1h-1zM355 287h1v1h-1zM484 287h1v1h-1zM565 287h1v1h-1zM967 287h1v1h-1zM1160 287h1v1h-1zM354 288h1v1h-1zM485 288h1v1h-1zM564 288h1v1h-1zM714 288h3v1h-3zM968 288h1v1h-1zM1158 288h2v1h-2zM353 289h1v1h-1zM486 289h1v1h-1zM563 289h1v1h-1zM717 289h5v1h-5zM969 289h1v1h-1zM1157 289h1v1h-1zM36 290h1v1h-1zM352 290h1v1h-1zM487 290h2v1h-2zM561 290h2v1h-2zM722 290h3v1h-3zM970 290h1v1h-1zM1156 290h1v1h-1zM37 291h1v1h-1zM351 291h1v1h-1zM489 291h1v1h-1zM560 291h1v1h-1zM725 291h2v1h-2zM971 291h2v1h-2zM1154 291h2v1h-2zM38 292h1v1h-1zM350 292h1v1h-1zM490 292h1v1h-1zM559 292h1v1h-1zM727 292h2v1h-2zM973 292h2v1h-2zM1152 292h2v1h-2zM39 293h1v1h-1zM349 293h1v1h-1zM491 293h1v1h-1zM558 293h1v1h-1zM729 293h2v1h-2zM975 293h1v1h-1zM1151 293h1v1h-1zM1302 293h1v1h-1zM40 294h1v1h-1zM348 294h1v1h-1zM492 294h2v1h-2zM556 294h2v1h-2zM731 294h10v1h-10zM976 294h2v1h-2zM1149 294h2v1h-2zM41 295h1v1h-1zM347 295h1v1h-1zM494 295h1v1h-1zM555 295h1v1h-1zM741 295h2v1h-2zM978 295h2v1h-2zM1147 295h2v1h-2zM42 296h1v1h-1zM346 296h1v1h-1zM495 296h1v1h-1zM554 296h1v1h-1zM743 296h2v1h-2zM980 296h2v1h-2zM1146 296h1v1h-1zM43 297h1v1h-1zM345 297h1v1h-1zM496 297h1v1h-1zM552 297h2v1h-2zM745 297h2v1h-2zM982 297h2v1h-2zM1144 297h2v1h-2zM44 298h1v1h-1zM344 298h1v1h-1zM497 298h2v1h-2zM551 298h1v1h-1zM747 298h2v1h-2zM984 298h3v1h-3zM1143 298h1v1h-1zM45 299h1v1h-1zM343 299h1v1h-1zM499 299h1v1h-1zM550 299h1v1h-1zM749 299h2v1h-2zM987 299h2v1h-2zM1142 299h1v1h-1zM46 300h1v1h-1zM342 300h1v1h-1zM500 300h1v1h-1zM548 300h2v1h-2zM751 300h2v1h-2zM989 300h3v1h-3zM1140 300h2v1h-2zM1298 300h1v1h-1zM47 301h1v1h-1zM341 301h1v1h-1zM501 301h1v1h-1zM547 301h1v1h-1zM753 301h2v1h-2zM992 301h2v1h-2zM1139 301h1v1h-1zM1297 301h1v1h-1zM48 302h1v1h-1zM340 302h1v1h-1zM502 302h2v1h-2zM546 302h1v1h-1zM755 302h2v1h-2zM994 302h3v1h-3zM1138 302h1v1h-1zM1296 302h1v1h-1zM49 303h1v1h-1zM339 303h1v1h-1zM504 303h1v1h-1zM544 303h2v1h-2zM757 303h1v1h-1zM997 303h2v1h-2zM1137 303h1v1h-1zM1295 303h1v1h-1zM50 304h1v1h-1zM338 304h1v1h-1zM505 304h1v1h-1zM543 304h1v1h-1zM758 304h1v1h-1zM999 304h3v1h-3zM1136 304h1v1h-1zM1294 304h1v1h-1zM337 305h1v1h-1zM506 305h2v1h-2zM542 305h1v1h-1zM759 305h1v1h-1zM1002 305h2v1h-2zM1135 305h1v1h-1zM1293 305h1v1h-1zM336 306h1v1h-1zM508 306h2v1h-2zM540 306h2v1h-2zM760 306h1v1h-1zM1004 306h3v1h-3zM1134 306h1v1h-1zM1292 306h1v1h-1zM52 307h1v1h-1zM335 307h1v1h-1zM510 307h3v1h-3zM539 307h1v1h-1zM761 307h1v1h-1zM1007 307h2v1h-2zM1133 307h1v1h-1zM1291 307h1v1h-1zM53 308h1v1h-1zM513 308h2v1h-2zM536 308h3v1h-3zM762 308h1v1h-1zM1009 308h3v1h-3zM1132 308h1v1h-1zM1290 308h1v1h-1zM54 309h1v1h-1zM515 309h2v1h-2zM532 309h4v1h-4zM763 309h1v1h-1zM1012 309h4v1h-4zM1131 309h1v1h-1zM1288 309h2v1h-2zM55 310h1v1h-1zM333 310h1v1h-1zM517 310h1v1h-1zM529 310h3v1h-3zM1016 310h3v1h-3zM1130 310h1v1h-1zM1286 310h2v1h-2zM56 311h1v1h-1zM332 311h1v1h-1zM518 311h2v1h-2zM527 311h2v1h-2zM1019 311h2v1h-2zM1285 311h1v1h-1zM520 312h2v1h-2zM525 312h2v1h-2zM1021 312h1v1h-1zM1283 312h2v1h-2zM522 313h3v1h-3zM1022 313h2v1h-2zM1128 313h1v1h-1zM1281 313h2v1h-2zM58 314h1v1h-1zM330 314h1v1h-1zM1024 314h1v1h-1zM1279 314h2v1h-2zM59 315h1v1h-1zM329 315h1v1h-1zM1025 315h1v1h-1zM1277 315h2v1h-2zM60 316h1v1h-1zM328 316h1v1h-1zM1026 316h2v1h-2zM1126 316h1v1h-1zM1275 316h2v1h-2zM1028 317h1v1h-1zM1125 317h1v1h-1zM1273 317h2v1h-2zM1029 318h1v1h-1zM1271 318h2v1h-2zM62 319h1v1h-1zM326 319h1v1h-1zM1030 319h2v1h-2zM1269 319h2v1h-2zM63 320h1v1h-1zM325 320h1v1h-1zM1032 320h1v1h-1zM1123 320h1v1h-1zM1268 320h1v1h-1zM211 321h1v1h-1zM1033 321h2v1h-2zM1121 321h2v1h-2zM1267 321h1v1h-1zM210 322h1v1h-1zM1035 322h2v1h-2zM1119 322h2v1h-2zM1195 322h1v1h-1zM1265 322h2v1h-2zM65 323h1v1h-1zM323 323h1v1h-1zM770 323h1v1h-1zM1037 323h2v1h-2zM1117 323h2v1h-2zM1193 323h2v1h-2zM1196 323h1v1h-1zM1264 323h1v1h-1zM322 324h1v1h-1zM1039 324h3v1h-3zM1116 324h1v1h-1zM1191 324h2v1h-2zM1197 324h1v1h-1zM1263 324h1v1h-1zM208 325h1v1h-1zM1042 325h2v1h-2zM1114 325h2v1h-2zM1189 325h2v1h-2zM1262 325h1v1h-1zM67 326h1v1h-1zM207 326h1v1h-1zM1044 326h3v1h-3zM1112 326h2v1h-2zM1188 326h1v1h-1zM1260 326h2v1h-2zM68 327h1v1h-1zM206 327h1v1h-1zM320 327h1v1h-1zM1047 327h2v1h-2zM1111 327h1v1h-1zM1186 327h2v1h-2zM1199 327h1v1h-1zM1259 327h1v1h-1zM205 328h1v1h-1zM319 328h1v1h-1zM1049 328h3v1h-3zM1109 328h2v1h-2zM1185 328h1v1h-1zM1200 328h1v1h-1zM1256 328h3v1h-3zM204 329h1v1h-1zM1052 329h2v1h-2zM1107 329h2v1h-2zM1184 329h1v1h-1zM1201 329h1v1h-1zM1252 329h4v1h-4zM70 330h1v1h-1zM1054 330h3v1h-3zM1104 330h3v1h-3zM1182 330h2v1h-2zM1202 330h1v1h-1zM1248 330h4v1h-4zM317 331h1v1h-1zM1057 331h2v1h-2zM1102 331h2v1h-2zM1181 331h1v1h-1zM1203 331h1v1h-1zM1245 331h3v1h-3zM202 332h1v1h-1zM316 332h1v1h-1zM1059 332h2v1h-2zM1099 332h3v1h-3zM1180 332h1v1h-1zM1204 332h1v1h-1zM1241 332h4v1h-4zM72 333h1v1h-1zM201 333h1v1h-1zM1061 333h1v1h-1zM1097 333h2v1h-2zM1179 333h1v1h-1zM1238 333h3v1h-3zM200 334h1v1h-1zM1062 334h2v1h-2zM1095 334h2v1h-2zM1178 334h1v1h-1zM1235 334h3v1h-3zM314 335h1v1h-1zM1064 335h1v1h-1zM1093 335h2v1h-2zM1177 335h1v1h-1zM1233 335h2v1h-2zM313 336h1v1h-1zM1065 336h1v1h-1zM1090 336h3v1h-3zM1176 336h1v1h-1zM1231 336h2v1h-2zM198 337h1v1h-1zM1066 337h2v1h-2zM1086 337h4v1h-4zM1175 337h1v1h-1zM1229 337h2v1h-2zM75 338h1v1h-1zM197 338h1v1h-1zM1068 338h4v1h-4zM1080 338h6v1h-6zM1174 338h1v1h-1zM1228 338h1v1h-1zM311 339h1v1h-1zM1072 339h8v1h-8zM1173 339h1v1h-1zM1226 339h2v1h-2zM1172 340h1v1h-1zM1225 340h1v1h-1zM77 341h1v1h-1zM195 341h1v1h-1zM1171 341h1v1h-1zM1223 341h2v1h-2zM194 342h1v1h-1zM1170 342h1v1h-1zM1222 342h1v1h-1zM132 343h2v1h-2zM1169 343h1v1h-1zM1221 343h1v1h-1zM134 344h1v1h-1zM1168 344h1v1h-1zM1211 344h3v1h-3zM1219 344h2v1h-2zM135 345h2v1h-2zM192 345h1v1h-1zM1167 345h1v1h-1zM1214 345h5v1h-5zM80 346h1v1h-1zM137 346h1v1h-1zM191 346h1v1h-1zM915 346h11v1h-11zM1166 346h1v1h-1zM138 347h2v1h-2zM912 347h3v1h-3zM926 347h3v1h-3zM1165 347h1v1h-1zM140 348h1v1h-1zM910 348h2v1h-2zM929 348h3v1h-3zM1164 348h1v1h-1zM141 349h2v1h-2zM189 349h1v1h-1zM907 349h3v1h-3zM932 349h2v1h-2zM1163 349h1v1h-1zM143 350h2v1h-2zM188 350h1v1h-1zM904 350h3v1h-3zM934 350h3v1h-3zM1162 350h1v1h-1zM145 351h2v1h-2zM900 351h4v1h-4zM937 351h2v1h-2zM147 352h2v1h-2zM898 352h2v1h-2zM939 352h2v1h-2zM897 353h1v1h-1zM941 353h2v1h-2zM1160 353h1v1h-1zM943 354h2v1h-2zM85 355h1v1h-1zM150 355h1v1h-1zM185 355h1v1h-1zM945 355h1v1h-1zM895 356h1v1h-1zM946 356h2v1h-2zM1158 356h1v1h-1zM894 357h1v1h-1zM948 357h2v1h-2zM152 358h1v1h-1zM183 358h1v1h-1zM893 358h1v1h-1zM950 358h1v1h-1zM951 359h2v1h-2zM1156 359h1v1h-1zM827 360h1v1h-1zM953 360h2v1h-2zM154 361h1v1h-1zM828 361h2v1h-2zM891 361h1v1h-1zM955 361h2v1h-2zM830 362h1v1h-1zM886 362h5v1h-5zM957 362h2v1h-2zM1154 362h1v1h-1zM180 363h1v1h-1zM825 363h1v1h-1zM831 363h1v1h-1zM885 363h1v1h-1zM959 363h1v1h-1zM90 364h1v1h-1zM156 364h1v1h-1zM832 364h2v1h-2zM879 364h6v1h-6zM960 364h1v1h-1zM157 365h1v1h-1zM834 365h3v1h-3zM855 365h23v1h-23zM961 365h1v1h-1zM178 366h1v1h-1zM298 366h1v1h-1zM788 366h2v1h-2zM823 366h1v1h-1zM837 366h17v1h-17zM962 366h1v1h-1zM176 367h2v1h-2zM790 367h2v1h-2zM963 367h1v1h-1zM159 368h1v1h-1zM175 368h1v1h-1zM792 368h2v1h-2zM160 369h1v1h-1zM173 369h2v1h-2zM296 369h1v1h-1zM794 369h1v1h-1zM821 369h1v1h-1zM1150 369h1v1h-1zM161 370h1v1h-1zM171 370h2v1h-2zM295 370h1v1h-1zM795 370h2v1h-2zM169 371h2v1h-2zM797 371h1v1h-1zM167 372h2v1h-2zM798 372h2v1h-2zM818 372h2v1h-2zM95 373h1v1h-1zM163 373h1v1h-1zM165 373h2v1h-2zM293 373h1v1h-1zM800 373h2v1h-2zM816 373h2v1h-2zM164 374h1v1h-1zM802 374h2v1h-2zM814 374h2v1h-2zM804 375h4v1h-4zM812 375h2v1h-2zM291 376h1v1h-1zM808 376h4v1h-4zM290 377h1v1h-1zM288 380h1v1h-1zM287 381h1v1h-1zM100 382h1v1h-1zM286 382h1v1h-1zM285 383h1v1h-1zM284 384h1v1h-1zM102 385h1v1h-1zM283 385h1v1h-1zM282 386h1v1h-1zM281 387h1v1h-1zM104 388h1v1h-1zM280 388h1v1h-1zM279 389h1v1h-1zM278 390h1v1h-1zM106 391h1v1h-1zM277 391h1v1h-1zM275 392h2v1h-2zM620 392h1v1h-1zM273 393h2v1h-2zM523 393h1v1h-1zM108 394h1v1h-1zM271 394h2v1h-2zM522 394h1v1h-1zM269 395h2v1h-2zM618 395h1v1h-1zM266 396h3v1h-3zM110 397h1v1h-1zM264 397h2v1h-2zM520 397h1v1h-1zM262 398h2v1h-2zM442 398h2v1h-2zM519 398h1v1h-1zM616 398h1v1h-1zM260 399h2v1h-2zM440 399h2v1h-2zM444 399h4v1h-4zM518 399h1v1h-1zM112 400h1v1h-1zM258 400h2v1h-2zM439 400h1v1h-1zM448 400h11v1h-11zM517 400h1v1h-1zM256 401h2v1h-2zM437 401h2v1h-2zM459 401h2v1h-2zM614 401h1v1h-1zM255 402h1v1h-1zM436 402h1v1h-1zM461 402h1v1h-1zM114 403h1v1h-1zM253 403h2v1h-2zM435 403h1v1h-1zM462 403h2v1h-2zM515 403h1v1h-1zM252 404h1v1h-1zM434 404h1v1h-1zM464 404h2v1h-2zM514 404h1v1h-1zM612 404h1v1h-1zM250 405h2v1h-2zM401 405h2v1h-2zM432 405h2v1h-2zM466 405h1v1h-1zM513 405h1v1h-1zM611 405h1v1h-1zM116 406h1v1h-1zM249 406h1v1h-1zM399 406h2v1h-2zM403 406h1v1h-1zM431 406h1v1h-1zM467 406h2v1h-2zM512 406h1v1h-1zM530 406h1v1h-1zM247 407h2v1h-2zM397 407h2v1h-2zM404 407h2v1h-2zM430 407h1v1h-1zM469 407h2v1h-2zM510 407h2v1h-2zM246 408h1v1h-1zM395 408h2v1h-2zM406 408h1v1h-1zM429 408h1v1h-1zM471 408h1v1h-1zM509 408h1v1h-1zM609 408h1v1h-1zM118 409h1v1h-1zM244 409h2v1h-2zM374 409h8v1h-8zM390 409h5v1h-5zM407 409h1v1h-1zM426 409h3v1h-3zM472 409h2v1h-2zM508 409h1v1h-1zM608 409h1v1h-1zM242 410h2v1h-2zM370 410h4v1h-4zM382 410h8v1h-8zM408 410h2v1h-2zM421 410h5v1h-5zM474 410h2v1h-2zM507 410h1v1h-1zM607 410h1v1h-1zM241 411h1v1h-1zM369 411h1v1h-1zM410 411h11v1h-11zM476 411h2v1h-2zM506 411h1v1h-1zM533 411h1v1h-1zM120 412h1v1h-1zM239 412h2v1h-2zM368 412h1v1h-1zM478 412h2v1h-2zM504 412h2v1h-2zM237 413h2v1h-2zM366 413h2v1h-2zM480 413h3v1h-3zM502 413h2v1h-2zM605 413h1v1h-1zM235 414h2v1h-2zM365 414h1v1h-1zM483 414h3v1h-3zM501 414h1v1h-1zM535 414h1v1h-1zM603 414h2v1h-2zM122 415h1v1h-1zM233 415h2v1h-2zM364 415h1v1h-1zM486 415h2v1h-2zM499 415h2v1h-2zM601 415h2v1h-2zM231 416h2v1h-2zM363 416h1v1h-1zM488 416h3v1h-3zM495 416h4v1h-4zM598 416h3v1h-3zM229 417h2v1h-2zM360 417h3v1h-3zM491 417h4v1h-4zM596 417h2v1h-2zM124 418h1v1h-1zM228 418h1v1h-1zM356 418h4v1h-4zM593 418h3v1h-3zM227 419h1v1h-1zM354 419h2v1h-2zM538 419h1v1h-1zM591 419h2v1h-2zM352 420h2v1h-2zM539 420h1v1h-1zM589 420h2v1h-2zM351 421h1v1h-1zM540 421h1v1h-1zM587 421h2v1h-2zM225 422h1v1h-1zM350 422h1v1h-1zM541 422h1v1h-1zM585 422h2v1h-2zM127 423h1v1h-1zM224 423h1v1h-1zM348 423h2v1h-2zM582 423h3v1h-3zM223 424h1v1h-1zM347 424h1v1h-1zM569 424h5v1h-5zM580 424h2v1h-2zM338 425h9v1h-9zM543 425h1v1h-1zM567 425h2v1h-2zM574 425h6v1h-6zM1075 425h11v1h-11zM337 426h1v1h-1zM544 426h1v1h-1zM565 426h2v1h-2zM1072 426h3v1h-3zM1086 426h2v1h-2zM221 427h1v1h-1zM336 427h1v1h-1zM545 427h1v1h-1zM563 427h2v1h-2zM982 427h1v1h-1zM1070 427h2v1h-2zM1088 427h3v1h-3zM130 428h1v1h-1zM220 428h1v1h-1zM334 428h2v1h-2zM546 428h2v1h-2zM560 428h3v1h-3zM1068 428h2v1h-2zM1091 428h3v1h-3zM131 429h1v1h-1zM218 429h2v1h-2zM333 429h1v1h-1zM548 429h4v1h-4zM556 429h4v1h-4zM1067 429h1v1h-1zM1094 429h4v1h-4zM132 430h2v1h-2zM217 430h1v1h-1zM332 430h1v1h-1zM552 430h4v1h-4zM984 430h1v1h-1zM1066 430h1v1h-1zM1098 430h12v1h-12zM134 431h1v1h-1zM216 431h1v1h-1zM331 431h1v1h-1zM1065 431h1v1h-1zM1110 431h2v1h-2zM135 432h1v1h-1zM214 432h2v1h-2zM330 432h1v1h-1zM1064 432h1v1h-1zM1112 432h3v1h-3zM136 433h2v1h-2zM213 433h1v1h-1zM329 433h1v1h-1zM986 433h1v1h-1zM1063 433h1v1h-1zM1115 433h3v1h-3zM138 434h1v1h-1zM211 434h2v1h-2zM328 434h1v1h-1zM1062 434h1v1h-1zM1118 434h4v1h-4zM139 435h1v1h-1zM208 435h3v1h-3zM327 435h1v1h-1zM1061 435h1v1h-1zM1122 435h1v1h-1zM140 436h1v1h-1zM205 436h3v1h-3zM326 436h1v1h-1zM988 436h1v1h-1zM1059 436h2v1h-2zM141 437h1v1h-1zM202 437h3v1h-3zM325 437h1v1h-1zM989 437h1v1h-1zM1057 437h2v1h-2zM142 438h1v1h-1zM199 438h3v1h-3zM990 438h2v1h-2zM1055 438h2v1h-2zM143 439h1v1h-1zM196 439h3v1h-3zM992 439h1v1h-1zM1053 439h2v1h-2zM144 440h1v1h-1zM193 440h3v1h-3zM993 440h1v1h-1zM1050 440h3v1h-3zM145 441h1v1h-1zM190 441h3v1h-3zM994 441h2v1h-2zM1046 441h4v1h-4zM146 442h1v1h-1zM188 442h2v1h-2zM996 442h1v1h-1zM1042 442h4v1h-4zM147 443h1v1h-1zM187 443h1v1h-1zM997 443h1v1h-1zM1038 443h4v1h-4zM148 444h1v1h-1zM185 444h2v1h-2zM998 444h2v1h-2zM1035 444h3v1h-3zM149 445h1v1h-1zM184 445h1v1h-1zM1000 445h1v1h-1zM1033 445h2v1h-2zM150 446h2v1h-2zM183 446h1v1h-1zM1001 446h1v1h-1zM1031 446h2v1h-2zM152 447h1v1h-1zM182 447h1v1h-1zM1002 447h2v1h-2zM1029 447h2v1h-2zM153 448h1v1h-1zM180 448h2v1h-2zM1004 448h2v1h-2zM1027 448h2v1h-2zM154 449h2v1h-2zM179 449h1v1h-1zM1006 449h4v1h-4zM1025 449h2v1h-2zM156 450h1v1h-1zM177 450h2v1h-2zM1010 450h4v1h-4zM1023 450h2v1h-2zM157 451h2v1h-2zM174 451h3v1h-3zM1014 451h4v1h-4zM1021 451h2v1h-2zM159 452h2v1h-2zM170 452h4v1h-4zM1018 452h3v1h-3zM161 453h2v1h-2zM166 453h4v1h-4zM163 454h3v1h-3zM38 507h1v1h-1zM42 514h1v1h-1zM43 515h1v1h-1zM44 516h1v1h-1zM116 518h2v1h-2zM130 518h5v1h-5zM46 519h1v1h-1zM118 519h2v1h-2zM128 519h2v1h-2zM135 519h1v1h-1zM47 520h1v1h-1zM120 520h1v1h-1zM126 520h2v1h-2zM136 520h1v1h-1zM48 521h1v1h-1zM121 521h2v1h-2zM124 521h2v1h-2zM137 521h1v1h-1zM49 522h1v1h-1zM123 522h1v1h-1zM138 522h1v1h-1zM139 523h1v1h-1zM140 524h1v1h-1zM51 525h1v1h-1zM141 525h1v1h-1zM52 526h1v1h-1zM143 528h1v1h-1zM54 529h1v1h-1zM144 529h1v1h-1zM56 532h1v1h-1zM146 532h2v1h-2zM148 533h3v1h-3zM151 534h32v1h-32zM58 535h1v1h-1zM106 535h1v1h-1zM183 535h5v1h-5zM105 536h1v1h-1zM188 536h3v1h-3zM191 537h2v1h-2zM60 538h1v1h-1zM193 538h2v1h-2zM61 539h1v1h-1zM103 539h1v1h-1zM195 539h2v1h-2zM62 540h1v1h-1zM102 540h1v1h-1zM197 540h2v1h-2zM63 541h1v1h-1zM199 541h2v1h-2zM64 542h1v1h-1zM201 542h2v1h-2zM65 543h1v1h-1zM100 543h1v1h-1zM203 543h1v1h-1zM66 544h1v1h-1zM98 544h2v1h-2zM204 544h2v1h-2zM67 545h1v1h-1zM97 545h1v1h-1zM206 545h2v1h-2zM68 546h1v1h-1zM95 546h2v1h-2zM208 546h1v1h-1zM69 547h2v1h-2zM94 547h1v1h-1zM209 547h2v1h-2zM71 548h1v1h-1zM92 548h2v1h-2zM211 548h1v1h-1zM72 549h2v1h-2zM82 549h10v1h-10zM74 550h2v1h-2zM78 550h4v1h-4zM76 551h2v1h-2zM213 551h1v1h-1zM215 554h1v1h-1zM275 554h1v1h-1zM273 555h2v1h-2zM271 556h2v1h-2zM269 557h2v1h-2zM267 558h2v1h-2zM218 559h1v1h-1zM264 559h3v1h-3zM262 560h2v1h-2zM259 561h3v1h-3zM220 562h1v1h-1zM256 562h3v1h-3zM221 563h1v1h-1zM254 563h2v1h-2zM222 564h1v1h-1zM251 564h3v1h-3zM223 565h1v1h-1zM249 565h2v1h-2zM224 566h2v1h-2zM247 566h2v1h-2zM226 567h1v1h-1zM245 567h2v1h-2zM227 568h1v1h-1zM243 568h2v1h-2zM228 569h4v1h-4zM239 569h4v1h-4zM232 570h7v1h-7z"/>
<g class="c">
<rect x="0" y="110" width="1623" height="1" fill="#c0c0c0"/>
<rect x="0" y="57" width="1619" height="2" fill="#ff0000"/>
<rect x="0" y="83" width="1619" height="2" fill="#ff0000"/>
<rect x="0" y="126" width="1619" height="2" fill="#32cd32"/>
<rect x="0" y="145" width="1619" height="2" fill="#0000ff"/>
<rect x="0" y="167" width="1619" height="2" fill="#0000ff"/>
</g>
<g class="c">
<path fill="#000" d="M3 342h1v65h-1zM11 395h1v73h-1zM19 426h1v33h-1zM27 431h1v75h-1zM35 393h1v110h-1zM43 383h1v51h-1zM51 347h1v80h-1zM59 387h1v50h-1zM67 429h1v20h-1zM75 417h1v39h-1zM83 405h1v28h-1zM91 415h1v45h-1zM99 392h1v63h-1zM107 419h1v40h-1zM115 430h1v24h-1zM123 422h1v112h-1zM131 505h1v63h-1zM139 482h1v54h-1zM147 485h1v71h-1zM155 423h1v122h-1zM163 458h1v36h-1zM171 401h1v79h-1zM179 400h1v34h-1zM187 343h1v78h-1zM195 343h1v37h-1zM203 320h1v52h-1zM211 328h1v25h-1zM219 260h1v107h-1zM227 249h1v46h-1zM235 274h1v65h-1zM243 297h1v65h-1zM251 334h1v22h-1zM259 318h1v40h-1zM267 334h1v53h-1zM275 340h1v36h-1zM283 344h1v35h-1zM291 318h1v53h-1zM299 307h1v33h-1zM307 173h1v40h-1zM315 199h1v64h-1zM323 163h1v71h-1zM331 208h1v28h-1zM339 182h1v50h-1zM347 173h1v24h-1zM355 182h1v42h-1zM363 176h1v32h-1zM371 187h1v46h-1zM379 217h1v24h-1zM387 219h1v84h-1zM395 289h1v52h-1zM403 304h1v29h-1zM411 324h1v70h-1zM419 344h1v40h-1zM427 340h1v34h-1zM435 314h1v68h-1zM443 312h1v21h-1zM451 316h1v29h-1zM459 331h1v23h-1zM467 322h1v17h-1zM475 325h1v20h-1zM483 325h1v16h-1zM491 329h1v11h-1zM499 324h1v17h-1zM507 312h1v20h-1zM515 271h1v54h-1zM523 250h1v40h-1zM531 143h1v135h-1zM539 139h1v28h-1zM547 163h1v16h-1zM555 156h1v48h-1zM563 196h1v26h-1zM571 147h1v64h-1zM579 118h1v50h-1zM587 101h1v37h-1zM595 103h1v22h-1zM603 79h1v40h-1zM611 77h1v44h-1zM619 64h1v46h-1zM627 90h1v27h-1zM635 71h1v47h-1zM643 69h1v22h-1zM651 57h1v27h-1zM659 61h1v29h-1zM667 62h1v25h-1zM675 66h1v129h-1zM683 175h1v32h-1zM691 175h1v39h-1zM699 208h1v111h-1zM707 257h1v53h-1zM715 240h1v42h-1zM723 205h1v74h-1zM731 163h1v57h-1zM739 145h1v40h-1zM747 145h1v69h-1zM755 187h1v33h-1zM763 177h1v52h-1zM771 205h1v93h-1zM779 281h1v51h-1zM787 304h1v29h-1zM795 261h1v70h-1zM803 268h1v35h-1zM811 293h1v35h-1zM819 288h1v34h-1zM827 299h1v25h-1zM835 305h1v23h-1zM843 264h1v51h-1zM851 263h1v33h-1zM859 267h1v43h-1zM867 203h1v103h-1zM875 199h1v52h-1zM883 219h1v23h-1zM891 211h1v50h-1zM899 221h1v31h-1zM907 217h1v18h-1zM915 212h1v61h-1zM923 260h1v24h-1zM931 267h1v42h-1zM939 291h1v78h-1zM947 336h1v39h-1zM955 306h1v50h-1zM963 282h1v68h-1zM971 318h1v150h-1zM979 377h1v90h-1zM987 379h1v62h-1zM995 352h1v43h-1zM1003 353h1v30h-1zM1011 335h1v46h-1zM1019 291h1v66h-1zM1027 325h1v14h-1zM1035 270h1v83h-1zM1043 277h1v47h-1zM1051 291h1v38h-1zM1059 286h1v45h-1zM1067 301h1v39h-1zM1075 301h1v18h-1zM1083 267h1v60h-1zM1091 242h1v36h-1zM1099 238h1v30h-1zM1107 220h1v57h-1zM1115 220h1v60h-1zM1123 226h1v21h-1zM1131 222h1v37h-1zM1139 238h1v50h-1zM1147 244h1v41h-1zM1155 261h1v40h-1zM1163 228h1v40h-1zM1171 235h1v22h-1zM1179 231h1v28h-1zM1187 247h1v30h-1zM1195 251h1v26h-1zM1203 149h1v120h-1zM1211 112h1v41h-1zM1219 118h1v27h-1zM1227 115h1v43h-1zM1235 134h1v17h-1zM1243 126h1v19h-1zM1251 95h1v55h-1zM1259 118h1v12h-1zM1267 135h1v15h-1zM1275 136h1v53h-1zM1283 130h1v29h-1zM1291 129h1v19h-1zM1299 78h1v64h-1zM1307 83h1v28h-1zM1315 81h1v30h-1zM1323 67h1v74h-1zM1331 137h1v20h-1zM1339 136h1v19h-1zM1347 132h1v42h-1zM1355 132h1v29h-1zM1363 141h1v17h-1zM1371 136h1v35h-1zM1379 150h1v19h-1zM1387 151h1v13h-1zM1395 134h1v40h-1zM1403 67h1v101h-1zM1411 97h1v17h-1zM1 357h5v41h-5zM9 397h5v43h-5zM17 441h5v7h-5zM25 443h5v52h-5zM33 412h5v82h-5zM41 405h5v9h-5zM49 389h5v17h-5zM57 388h5v34h-5zM65 434h5v14h-5zM73 423h5v22h-5zM81 422h5v2h-5zM89 422h5v24h-5zM97 432h5v14h-5zM105 433h5v10h-5zM113 439h5v3h-5zM121 438h5v92h-5zM129 507h5v23h-5zM137 497h5v12h-5zM145 497h5v39h-5zM153 472h5v64h-5zM161 472h5v5h-5zM169 411h5v65h-5zM177 407h5v6h-5zM185 345h5v65h-5zM193 345h5v22h-5zM201 331h5v39h-5zM209 331h5v14h-5zM217 264h5v82h-5zM225 264h5v11h-5zM233 274h5v49h-5zM241 323h5v25h-5zM249 338h5v10h-5zM257 338h5v5h-5zM265 339h5v35h-5zM273 367h5v7h-5zM281 346h5v23h-5zM289 322h5v25h-5zM297 321h5v18h-5zM305 173h5v26h-5zM313 199h5v26h-5zM321 208h5v17h-5zM329 209h5v10h-5zM337 189h5v30h-5zM345 186h5v4h-5zM353 185h5v15h-5zM361 190h5v11h-5zM369 189h5v38h-5zM377 223h5v3h-5zM385 223h5v66h-5zM393 289h5v22h-5zM401 309h5v16h-5zM409 325h5v47h-5zM417 344h5v28h-5zM425 345h5v18h-5zM433 324h5v40h-5zM441 315h5v10h-5zM449 316h5v24h-5zM457 335h5v5h-5zM465 330h5v5h-5zM473 330h5v7h-5zM481 330h5v8h-5zM489 330h5v5h-5zM497 327h5v9h-5zM505 321h5v8h-5zM513 274h5v48h-5zM521 252h5v23h-5zM529 158h5v95h-5zM537 155h5v4h-5zM545 168h5v6h-5zM553 173h5v26h-5zM561 199h5v10h-5zM569 154h5v54h-5zM577 120h5v35h-5zM585 102h5v20h-5zM593 103h5v17h-5zM601 108h5v9h-5zM609 97h5v11h-5zM617 95h5v3h-5zM625 95h5v11h-5zM633 81h5v25h-5zM641 71h5v12h-5zM649 72h5v8h-5zM657 66h5v15h-5zM665 66h5v3h-5zM673 68h5v118h-5zM681 185h5v3h-5zM689 187h5v22h-5zM697 209h5v95h-5zM705 273h5v31h-5zM713 263h5v11h-5zM721 218h5v47h-5zM729 184h5v36h-5zM737 149h5v35h-5zM745 145h5v58h-5zM753 201h5v2h-5zM761 201h5v20h-5zM769 220h5v65h-5zM777 283h5v49h-5zM785 314h5v12h-5zM793 284h5v42h-5zM801 283h5v15h-5zM809 297h5v1h-5zM817 297h5v14h-5zM825 307h5v4h-5zM833 306h5v2h-5zM841 289h5v21h-5zM849 272h5v18h-5zM857 272h5v23h-5zM865 204h5v90h-5zM873 203h5v18h-5zM881 220h5v21h-5zM889 240h5v7h-5zM897 226h5v21h-5zM905 225h5v2h-5zM913 224h5v40h-5zM921 262h5v12h-5zM929 274h5v28h-5zM937 299h5v51h-5zM945 340h5v8h-5zM953 331h5v10h-5zM961 330h5v16h-5zM969 345h5v108h-5zM977 423h5v30h-5zM985 393h5v29h-5zM993 368h5v26h-5zM1001 366h5v2h-5zM1009 337h5v30h-5zM1017 335h5v2h-5zM1025 327h5v4h-5zM1033 301h5v26h-5zM1041 301h5v17h-5zM1049 297h5v22h-5zM1057 297h5v10h-5zM1065 306h5v10h-5zM1073 308h5v8h-5zM1081 275h5v35h-5zM1089 262h5v13h-5zM1097 257h5v6h-5zM1105 256h5v17h-5zM1113 229h5v44h-5zM1121 229h5v4h-5zM1129 232h5v13h-5zM1137 245h5v33h-5zM1145 271h5v7h-5zM1153 266h5v6h-5zM1161 238h5v28h-5zM1169 238h5v4h-5zM1177 241h5v8h-5zM1185 247h5v27h-5zM1193 255h5v19h-5zM1201 150h5v106h-5zM1209 119h5v32h-5zM1217 119h5v12h-5zM1225 128h5v16h-5zM1233 141h5v2h-5zM1241 131h5v11h-5zM1249 125h5v7h-5zM1257 124h5v2h-5zM1265 137h5v3h-5zM1273 138h5v21h-5zM1281 135h5v24h-5zM1289 136h5v3h-5zM1297 90h5v49h-5zM1305 89h5v16h-5zM1313 89h5v16h-5zM1321 88h5v51h-5zM1329 137h5v2h-5zM1337 138h5v11h-5zM1345 134h5v36h-5zM1353 134h5v15h-5zM1361 148h5v7h-5zM1369 154h5v2h-5zM1377 154h5v4h-5zM1385 155h5v3h-5zM1393 151h5v5h-5zM1401 104h5v47h-5zM1409 105h5v6h-5z"/>
<path fill="#fff" d="M34 413h3v80h-3zM42 406h3v7h-3zM50 390h3v15h-3zM74 424h3v20h-3zM98 433h3v12h-3zM114 440h3v1h-3zM130 508h3v21h-3zM138 498h3v10h-3zM154 473h3v62h-3zM170 412h3v63h-3zM178 408h3v4h-3zM186 346h3v63h-3zM202 332h3v37h-3zM218 265h3v80h-3zM250 339h3v8h-3zM274 368h3v5h-3zM282 347h3v21h-3zM290 323h3v23h-3zM322 209h3v15h-3zM338 190h3v28h-3zM346 187h3v2h-3zM362 191h3v9h-3zM378 224h3v1h-3zM418 345h3v26h-3zM434 325h3v38h-3zM442 316h3v8h-3zM458 336h3v3h-3zM466 331h3v3h-3zM482 331h3v6h-3zM498 328h3v7h-3zM506 322h3v6h-3zM514 275h3v46h-3zM522 253h3v21h-3zM530 159h3v93h-3zM538 156h3v2h-3zM570 155h3v52h-3zM578 121h3v33h-3zM586 103h3v18h-3zM602 109h3v7h-3zM610 98h3v9h-3zM618 96h3v1h-3zM634 82h3v23h-3zM642 72h3v10h-3zM658 67h3v13h-3zM706 274h3v29h-3zM714 264h3v9h-3zM722 219h3v45h-3zM730 185h3v34h-3zM738 150h3v33h-3zM794 285h3v40h-3zM826 308h3v2h-3zM842 290h3v19h-3zM850 273h3v16h-3zM866 205h3v88h-3zM898 227h3v19h-3zM946 341h3v6h-3zM954 332h3v8h-3zM978 424h3v28h-3zM986 394h3v27h-3zM994 369h3v24h-3zM1010 338h3v28h-3zM1026 328h3v2h-3zM1034 302h3v24h-3zM1050 298h3v20h-3zM1074 309h3v6h-3zM1082 276h3v33h-3zM1090 263h3v11h-3zM1098 258h3v4h-3zM1114 230h3v42h-3zM1146 272h3v5h-3zM1154 267h3v4h-3zM1162 239h3v26h-3zM1194 256h3v17h-3zM1202 151h3v104h-3zM1210 120h3v30h-3zM1242 132h3v9h-3zM1250 126h3v5h-3zM1282 136h3v22h-3zM1298 91h3v47h-3zM1314 90h3v14h-3zM1346 135h3v34h-3zM1386 156h3v1h-3zM1394 152h3v3h-3zM1402 105h3v45h-3z"/>
</g>
<g class="c"><rect x="1346" y="123" width="104" height="9" fill="#00ff00"/>
<rect x="1401" y="104" width="1" height="47" fill="#000"/><rect x="1405" y="104" width="1" height="47" fill="#000"/></g>
<g stroke="#ffff00" stroke-linecap="round" fill="none"><line x1="1323.5" y1="74" x2="1343.2" y2="185.5" stroke-width="6.2"/><line x1="1345.5" y1="185" x2="1432.5" y2="59.5" stroke-width="7.6"/></g>
<g class="c"><rect x="1476" y="127" width="8" height="1" fill="#ff0000"/><rect x="1483.5" y="125.5" width="2" height="3" fill="#fff" stroke="#ff0000" stroke-width="1"/>
<rect x="1486.5" y="111.5" width="99" height="32" fill="#fff" stroke="#ff0000" stroke-width="1"/></g>
<text x="1487.8" y="138" font-size="27.8" fill="#ff0000" textLength="97.5" lengthAdjust="spacingAndGlyphs">108.680</text>
<g transform="translate(1416.6,208.3)"><text x="1.1" y="0.1" font-size="32.5" font-weight="bold" fill="#14306e" textLength="163" lengthAdjust="spacingAndGlyphs" style="font-family:'Liberation Serif','Noto Serif CJK SC',serif" transform="translate(1.1,1.1)">多空转折点</text><text x="1.1" y="0.1" font-size="32.5" font-weight="bold" fill="#00ff00" textLength="163" lengthAdjust="spacingAndGlyphs" style="font-family:'Liberation Serif','Noto Serif CJK SC',serif">多空转折点</text></g>
<g class="c" fill="#000">
<rect x="0" y="29" width="1624" height="1"/>
<rect x="1623" y="29" width="1" height="901"/>
<rect x="0" y="582" width="1624" height="1"/><rect x="0" y="584" width="1624" height="1"/>
<rect x="0" y="767" width="1624" height="1"/><rect x="0" y="769" width="1624" height="1"/>
<rect x="0" y="929" width="1624" height="1"/><rect x="1624" y="928" width="1" height="1"/><rect x="1624" y="771" width="1" height="1"/><rect x="1624" y="766" width="1" height="1"/><rect x="1624" y="586" width="1" height="1"/>
<rect x="1623" y="583" width="1" height="1" fill="#fff"/><rect x="1623" y="768" width="1" height="1" fill="#fff"/>
</g>
<path class="c" fill="#c0c0c0" d="M1422 30h9v1h-9zM1423 31h7v1h-7zM1424 32h5v1h-5zM1425 33h3v1h-3zM1426 34h1v1h-1z"/>
<g class="c" fill="#000">
<rect x="1624" y="49" width="2" height="1"/>
<rect x="1624" y="82" width="2" height="1"/>
<rect x="1624" y="115" width="2" height="1"/>
<rect x="1624" y="148" width="2" height="1"/>
<rect x="1624" y="182" width="2" height="1"/>
<rect x="1624" y="215" width="2" height="1"/>
<rect x="1624" y="248" width="2" height="1"/>
<rect x="1624" y="281" width="2" height="1"/>
<rect x="1624" y="314" width="2" height="1"/>
<rect x="1624" y="347" width="2" height="1"/>
<rect x="1624" y="381" width="2" height="1"/>
<rect x="1624" y="414" width="2" height="1"/>
<rect x="1624" y="447" width="2" height="1"/>
<rect x="1624" y="480" width="2" height="1"/>
<rect x="1624" y="513" width="2" height="1"/>
<rect x="1624" y="546" width="2" height="1"/>
<rect x="1624" y="579" width="2" height="1"/>
</g>
<text class="ax" transform="translate(1628.6,52.9) scale(1.045,1.1)" >109.020</text>
<text class="ax" transform="translate(1628.6,85.9) scale(1.045,1.1)" >108.875</text>
<text class="ax" transform="translate(1628.6,118.9) scale(1.045,1.1)" >108.730</text>
<text class="ax" transform="translate(1628.6,151.9) scale(1.045,1.1)" >108.585</text>
<text class="ax" transform="translate(1628.6,185.9) scale(1.045,1.1)" >108.445</text>
<text class="ax" transform="translate(1628.6,218.9) scale(1.045,1.1)" >108.300</text>
<text class="ax" transform="translate(1628.6,251.9) scale(1.045,1.1)" >108.155</text>
<text class="ax" transform="translate(1628.6,284.9) scale(1.045,1.1)" >108.015</text>
<text class="ax" transform="translate(1628.6,317.9) scale(1.045,1.1)" >107.870</text>
<text class="ax" transform="translate(1628.6,350.9) scale(1.045,1.1)" >107.725</text>
<text class="ax" transform="translate(1628.6,384.9) scale(1.045,1.1)" >107.580</text>
<text class="ax" transform="translate(1628.6,417.9) scale(1.045,1.1)" >107.435</text>
<text class="ax" transform="translate(1628.6,450.9) scale(1.045,1.1)" >107.295</text>
<text class="ax" transform="translate(1628.6,483.9) scale(1.045,1.1)" >107.150</text>
<text class="ax" transform="translate(1628.6,516.9) scale(1.045,1.1)" >107.005</text>
<text class="ax" transform="translate(1628.6,549.9) scale(1.045,1.1)" >106.865</text>
<text class="ax" transform="translate(1628.6,582.9) scale(1.045,1.1)" >106.720</text>
<rect class="c" x="1625" y="52" width="41" height="11" fill="#ff0000"/>
<text class="ax" transform="translate(1629,61.2) scale(1.045,1.1)" style="fill:#fff">108.979</text>
<rect class="c" x="1625" y="78" width="41" height="11" fill="#ff0000"/>
<text class="ax" transform="translate(1629,87.2) scale(1.045,1.1)" style="fill:#fff">108.866</text>
<rect class="c" x="1625" y="105" width="41" height="11" fill="#000000"/>
<text class="ax" transform="translate(1629,114.2) scale(1.045,1.1)" style="fill:#fff">108.754</text>
<rect class="c" x="1625" y="121" width="41" height="11" fill="#32cd32"/>
<text class="ax" transform="translate(1629,130.2) scale(1.045,1.1)" style="fill:#fff">108.680</text>
<rect class="c" x="1625" y="140" width="41" height="11" fill="#0000ff"/>
<text class="ax" transform="translate(1629,149.2) scale(1.045,1.1)" style="fill:#fff">108.598</text>
<rect class="c" x="1625" y="162" width="41" height="11" fill="#0000ff"/>
<text class="ax" transform="translate(1629,171.2) scale(1.045,1.1)" style="fill:#fff">108.502</text>
<g class="c">
<rect x="1617" y="55" width="6" height="6" fill="#ff0000"/><rect x="1619" y="57" width="2" height="2" fill="#fff"/>
<rect x="1617" y="81" width="6" height="6" fill="#ff0000"/><rect x="1619" y="83" width="2" height="2" fill="#fff"/>
<rect x="1617" y="124" width="6" height="6" fill="#32cd32"/><rect x="1619" y="126" width="2" height="2" fill="#fff"/>
<rect x="1617" y="143" width="6" height="6" fill="#0000ff"/><rect x="1619" y="145" width="2" height="2" fill="#fff"/>
<rect x="1617" y="165" width="6" height="6" fill="#0000ff"/><rect x="1619" y="167" width="2" height="2" fill="#fff"/>
</g>
<g class="c">
<path fill="#c0c0c0" d="M3 667h1v60h-1zM11 667h1v72h-1zM19 667h1v80h-1zM27 667h1v91h-1zM35 667h1v90h-1zM43 667h1v88h-1zM51 667h1v83h-1zM59 667h1v81h-1zM67 667h1v82h-1zM75 667h1v79h-1zM83 667h1v76h-1zM91 667h1v75h-1zM99 667h1v72h-1zM107 667h1v70h-1zM115 667h1v67h-1zM123 667h1v74h-1zM131 667h1v76h-1zM139 667h1v76h-1zM147 667h1v78h-1zM155 667h1v74h-1zM163 667h1v68h-1zM171 667h1v57h-1zM179 667h1v47h-1zM187 667h1v32h-1zM195 667h1v23h-1zM203 667h1v11h-1zM211 667h1v3h-1zM219 657h1v11h-1zM227 646h1v22h-1zM235 644h1v24h-1zM243 644h1v24h-1zM251 644h1v24h-1zM259 645h1v23h-1zM267 649h1v19h-1zM275 652h1v16h-1zM283 652h1v16h-1zM291 649h1v19h-1zM299 648h1v20h-1zM307 635h1v33h-1zM315 627h1v41h-1zM323 619h1v49h-1zM331 615h1v53h-1zM339 609h1v59h-1zM347 605h1v63h-1zM355 603h1v65h-1zM363 602h1v66h-1zM371 606h1v62h-1zM379 610h1v58h-1zM387 619h1v49h-1zM395 630h1v38h-1zM403 640h1v28h-1zM411 653h1v15h-1zM419 661h1v7h-1zM427 667h1v1h-1zM435 667h1v3h-1zM443 667h1v4h-1zM451 667h1v7h-1zM459 667h1v9h-1zM467 667h1v10h-1zM475 667h1v11h-1zM483 667h1v12h-1zM491 667h1v12h-1zM499 667h1v10h-1zM507 667h1v10h-1zM515 667h1v4h-1zM523 665h1v3h-1zM531 650h1v18h-1zM539 638h1v30h-1zM547 630h1v38h-1zM555 628h1v40h-1zM563 627h1v41h-1zM571 621h1v47h-1zM579 614h1v54h-1zM587 607h1v61h-1zM595 603h1v65h-1zM603 601h1v67h-1zM611 598h1v70h-1zM619 596h1v72h-1zM627 597h1v71h-1zM635 596h1v72h-1zM643 595h1v73h-1zM651 596h1v72h-1zM659 596h1v72h-1zM667 596h1v72h-1zM675 611h1v57h-1zM683 622h1v46h-1zM691 634h1v34h-1zM699 654h1v14h-1zM707 667h1v1h-1zM715 667h1v7h-1zM723 667h1v9h-1zM731 667h1v7h-1zM739 667h1v2h-1zM747 667h1v3h-1zM755 667h1v4h-1zM763 667h1v7h-1zM771 667h1v15h-1zM779 667h1v27h-1zM787 667h1v35h-1zM795 667h1v37h-1zM803 667h1v39h-1zM811 667h1v40h-1zM819 667h1v42h-1zM827 667h1v43h-1zM835 667h1v43h-1zM843 667h1v41h-1zM851 667h1v37h-1zM859 667h1v35h-1zM867 667h1v24h-1zM875 667h1v17h-1zM883 667h1v13h-1zM891 667h1v11h-1zM899 667h1v7h-1zM907 667h1v4h-1zM915 667h1v5h-1zM923 667h1v7h-1zM931 667h1v11h-1zM939 667h1v20h-1zM947 667h1v25h-1zM955 667h1v28h-1zM963 667h1v31h-1zM971 667h1v45h-1zM979 667h1v52h-1zM987 667h1v54h-1zM995 667h1v52h-1zM1003 667h1v50h-1zM1011 667h1v45h-1zM1019 667h1v40h-1zM1027 667h1v34h-1zM1035 667h1v27h-1zM1043 667h1v23h-1zM1051 667h1v17h-1zM1059 667h1v14h-1zM1067 667h1v11h-1zM1075 667h1v9h-1zM1083 667h1v3h-1zM1091 665h1v3h-1zM1099 660h1v8h-1zM1107 658h1v10h-1zM1115 652h1v16h-1zM1123 648h1v20h-1zM1131 646h1v22h-1zM1139 648h1v20h-1zM1147 649h1v19h-1zM1155 650h1v18h-1zM1163 648h1v20h-1zM1171 647h1v21h-1zM1179 647h1v21h-1zM1187 650h1v18h-1zM1195 650h1v18h-1zM1203 640h1v28h-1zM1211 629h1v39h-1zM1219 622h1v46h-1zM1227 618h1v50h-1zM1235 615h1v53h-1zM1243 613h1v55h-1zM1251 611h1v57h-1zM1259 610h1v58h-1zM1267 612h1v56h-1zM1275 616h1v52h-1zM1283 617h1v51h-1zM1291 618h1v50h-1zM1299 615h1v53h-1zM1307 615h1v53h-1zM1315 614h1v54h-1zM1323 618h1v50h-1zM1331 623h1v45h-1zM1339 630h1v38h-1zM1347 632h1v36h-1zM1355 636h1v32h-1zM1363 640h1v28h-1zM1371 643h1v25h-1zM1379 647h1v21h-1zM1387 649h1v19h-1zM1395 651h1v17h-1zM1403 648h1v20h-1zM1411 646h1v22h-1z"/>
<path fill="#ff0000" d="M24 713h1v2h-1zM28 718h1v2h-1zM33 724h1v2h-1zM223 696h1v2h-1zM231 685h1v2h-1zM655 596h2v1h-2zM660 596h3v1h-3zM666 596h3v1h-3zM654 597h1v1h-1zM672 597h3v1h-3zM648 598h3v1h-3zM678 598h2v1h-2zM680 599h1v1h-1zM643 600h2v1h-2zM684 600h1v1h-1zM642 601h1v1h-1zM685 601h2v1h-2zM638 602h1v1h-1zM636 603h2v1h-2zM631 604h2v1h-2zM690 604h2v1h-2zM630 605h1v1h-1zM692 605h1v1h-1zM625 606h2v1h-2zM624 607h1v1h-1zM620 608h1v1h-1zM696 608h2v1h-2zM384 609h3v1h-3zM390 609h3v1h-3zM618 609h2v1h-2zM698 609h1v1h-1zM378 610h3v1h-3zM396 610h3v1h-3zM374 611h1v1h-1zM614 611h1v1h-1zM372 612h2v1h-2zM402 612h1v1h-1zM612 612h2v1h-2zM702 612h1v1h-1zM403 613h2v1h-2zM703 613h1v1h-1zM1294 613h3v1h-3zM1300 613h3v1h-3zM1306 613h3v1h-3zM1312 613h3v1h-3zM1318 613h3v1h-3zM367 614h2v1h-2zM704 614h1v1h-1zM1282 614h3v1h-3zM1288 614h3v1h-3zM1324 614h3v1h-3zM366 615h1v1h-1zM408 615h1v1h-1zM607 615h2v1h-2zM1276 615h3v1h-3zM1330 615h3v1h-3zM409 616h2v1h-2zM606 616h1v1h-1zM1272 616h1v1h-1zM1336 616h2v1h-2zM362 617h1v1h-1zM1270 617h2v1h-2zM1338 617h1v1h-1zM361 618h1v1h-1zM602 618h1v1h-1zM708 618h1v1h-1zM1342 618h3v1h-3zM360 619h1v1h-1zM414 619h1v1h-1zM601 619h1v1h-1zM709 619h1v1h-1zM1264 619h3v1h-3zM1348 619h3v1h-3zM415 620h1v1h-1zM600 620h1v1h-1zM710 620h1v1h-1zM1354 620h2v1h-2zM416 621h1v1h-1zM1259 621h2v1h-2zM1356 621h1v1h-1zM356 622h1v1h-1zM596 622h1v1h-1zM1258 622h1v1h-1zM1360 622h1v1h-1zM355 623h1v1h-1zM595 623h1v1h-1zM1361 623h2v1h-2zM354 624h1v1h-1zM420 624h1v1h-1zM594 624h1v1h-1zM714 624h1v1h-1zM1253 624h2v1h-2zM421 625h1v1h-1zM715 625h1v1h-1zM1252 625h1v1h-1zM1366 625h2v1h-2zM422 626h1v1h-1zM716 626h1v1h-1zM1368 626h1v1h-1zM350 627h1v1h-1zM590 627h1v1h-1zM1248 627h1v1h-1zM1372 627h1v1h-1zM348 628h2v1h-2zM589 628h1v1h-1zM1247 628h1v1h-1zM1373 628h2v1h-2zM588 629h1v1h-1zM1246 629h1v1h-1zM426 630h1v1h-1zM719 630h1v1h-1zM1378 630h3v1h-3zM343 631h2v1h-2zM427 631h1v1h-1zM720 631h1v1h-1zM1240 631h3v1h-3zM342 632h1v1h-1zM428 632h1v1h-1zM584 632h1v1h-1zM721 632h1v1h-1zM1384 632h1v1h-1zM583 633h1v1h-1zM1235 633h2v1h-2zM1385 633h2v1h-2zM337 634h2v1h-2zM582 634h1v1h-1zM1234 634h1v1h-1zM336 635h1v1h-1zM1390 635h1v1h-1zM432 636h1v1h-1zM724 636h1v1h-1zM1229 636h2v1h-2zM1391 636h2v1h-2zM331 637h2v1h-2zM433 637h1v1h-1zM578 637h1v1h-1zM725 637h1v1h-1zM1228 637h1v1h-1zM330 638h1v1h-1zM434 638h1v1h-1zM576 638h2v1h-2zM726 638h1v1h-1zM1224 638h1v1h-1zM1396 638h1v1h-1zM1222 639h2v1h-2zM1397 639h2v1h-2zM1402 640h1v1h-1zM325 641h2v1h-2zM438 641h1v1h-1zM1217 641h2v1h-2zM1403 641h2v1h-2zM324 642h1v1h-1zM439 642h1v1h-1zM572 642h1v1h-1zM730 642h1v1h-1zM1216 642h1v1h-1zM1408 642h2v1h-2zM318 643h3v1h-3zM440 643h1v1h-1zM571 643h1v1h-1zM731 643h1v1h-1zM1410 643h1v1h-1zM314 644h1v1h-1zM570 644h1v1h-1zM732 644h1v1h-1zM1210 644h3v1h-3zM312 645h2v1h-2zM1206 645h1v1h-1zM288 646h3v1h-3zM306 646h3v1h-3zM444 646h1v1h-1zM1200 646h1v1h-1zM1204 646h2v1h-2zM282 647h3v1h-3zM294 647h3v1h-3zM302 647h1v1h-1zM445 647h1v1h-1zM1176 647h1v1h-1zM1180 647h3v1h-3zM1186 647h3v1h-3zM1192 647h3v1h-3zM1198 647h2v1h-2zM276 648h3v1h-3zM300 648h2v1h-2zM446 648h1v1h-1zM566 648h1v1h-1zM736 648h1v1h-1zM1170 648h1v1h-1zM1174 648h2v1h-2zM565 649h1v1h-1zM737 649h1v1h-1zM1168 649h2v1h-2zM271 650h2v1h-2zM564 650h1v1h-1zM738 650h1v1h-1zM1162 650h3v1h-3zM270 651h1v1h-1zM450 651h1v1h-1zM1158 651h1v1h-1zM451 652h1v1h-1zM1156 652h2v1h-2zM265 653h2v1h-2zM452 653h1v1h-1zM560 653h1v1h-1zM1150 653h3v1h-3zM264 654h1v1h-1zM559 654h1v1h-1zM742 654h1v1h-1zM558 655h1v1h-1zM743 655h1v1h-1zM1144 655h3v1h-3zM260 656h1v1h-1zM456 656h1v1h-1zM744 656h1v1h-1zM258 657h2v1h-2zM457 657h1v1h-1zM1139 657h2v1h-2zM458 658h1v1h-1zM553 658h2v1h-2zM1138 658h1v1h-1zM552 659h1v1h-1zM748 659h1v1h-1zM1134 659h1v1h-1zM254 660h1v1h-1zM749 660h1v1h-1zM1132 660h2v1h-2zM253 661h1v1h-1zM462 661h2v1h-2zM547 661h2v1h-2zM750 661h1v1h-1zM252 662h1v1h-1zM464 662h1v1h-1zM546 662h1v1h-1zM1128 662h1v1h-1zM1127 663h1v1h-1zM754 664h1v1h-1zM1126 664h1v1h-1zM468 665h2v1h-2zM542 665h1v1h-1zM755 665h2v1h-2zM248 666h1v1h-1zM470 666h1v1h-1zM541 666h1v1h-1zM1121 666h2v1h-2zM247 667h1v1h-1zM540 667h1v1h-1zM1120 667h1v1h-1zM246 668h1v1h-1zM474 668h1v1h-1zM760 668h2v1h-2zM1116 668h1v1h-1zM475 669h2v1h-2zM762 669h1v1h-1zM1114 669h2v1h-2zM535 670h2v1h-2zM480 671h1v1h-1zM534 671h1v1h-1zM766 671h2v1h-2zM1110 671h1v1h-1zM242 672h1v1h-1zM481 672h2v1h-2zM530 672h1v1h-1zM768 672h1v1h-1zM1108 672h2v1h-2zM241 673h1v1h-1zM486 673h2v1h-2zM528 673h2v1h-2zM772 673h1v1h-1zM240 674h1v1h-1zM488 674h1v1h-1zM524 674h1v1h-1zM773 674h2v1h-2zM492 675h3v1h-3zM498 675h2v1h-2zM522 675h2v1h-2zM778 675h1v1h-1zM1103 675h2v1h-2zM500 676h1v1h-1zM504 676h3v1h-3zM510 676h3v1h-3zM516 676h3v1h-3zM779 676h2v1h-2zM1102 676h1v1h-1zM936 677h1v1h-1zM940 677h3v1h-3zM237 678h1v1h-1zM784 678h3v1h-3zM934 678h2v1h-2zM946 678h3v1h-3zM1098 678h1v1h-1zM236 679h1v1h-1zM928 679h3v1h-3zM952 679h2v1h-2zM1097 679h1v1h-1zM235 680h1v1h-1zM790 680h2v1h-2zM954 680h1v1h-1zM1096 680h1v1h-1zM792 681h1v1h-1zM923 681h2v1h-2zM958 681h3v1h-3zM796 682h1v1h-1zM922 682h1v1h-1zM964 682h1v1h-1zM1092 682h1v1h-1zM797 683h2v1h-2zM918 683h1v1h-1zM965 683h2v1h-2zM1090 683h2v1h-2zM232 684h1v1h-1zM916 684h2v1h-2zM802 685h2v1h-2zM970 685h1v1h-1zM804 686h1v1h-1zM911 686h2v1h-2zM971 686h2v1h-2zM1085 686h2v1h-2zM808 687h1v1h-1zM910 687h1v1h-1zM1084 687h1v1h-1zM0 688h1v1h-1zM809 688h2v1h-2zM1 689h1v1h-1zM905 689h2v1h-2zM976 689h1v1h-1zM1079 689h2v1h-2zM2 690h1v1h-1zM228 690h1v1h-1zM814 690h1v1h-1zM904 690h1v1h-1zM977 690h1v1h-1zM1078 690h1v1h-1zM227 691h1v1h-1zM815 691h1v1h-1zM978 691h1v1h-1zM1074 691h1v1h-1zM226 692h1v1h-1zM816 692h1v1h-1zM899 692h2v1h-2zM1072 692h2v1h-2zM898 693h1v1h-1zM982 693h1v1h-1zM6 694h1v1h-1zM820 694h1v1h-1zM983 694h2v1h-2zM7 695h1v1h-1zM821 695h2v1h-2zM893 695h2v1h-2zM1068 695h1v1h-1zM8 696h1v1h-1zM892 696h1v1h-1zM988 696h1v1h-1zM1067 696h1v1h-1zM826 697h1v1h-1zM989 697h2v1h-2zM1066 697h1v1h-1zM222 698h1v1h-1zM827 698h2v1h-2zM887 698h2v1h-2zM886 699h1v1h-1zM12 700h1v1h-1zM994 700h1v1h-1zM1061 700h2v1h-2zM13 701h1v1h-1zM832 701h2v1h-2zM880 701h3v1h-3zM995 701h1v1h-1zM1060 701h1v1h-1zM14 702h1v1h-1zM219 702h1v1h-1zM834 702h1v1h-1zM996 702h1v1h-1zM218 703h1v1h-1zM838 703h2v1h-2zM874 703h3v1h-3zM1055 703h2v1h-2zM217 704h1v1h-1zM840 704h1v1h-1zM844 704h2v1h-2zM868 704h3v1h-3zM1054 704h1v1h-1zM846 705h1v1h-1zM864 705h1v1h-1zM18 706h1v1h-1zM850 706h1v1h-1zM862 706h2v1h-2zM1000 706h3v1h-3zM1048 706h3v1h-3zM19 707h1v1h-1zM851 707h2v1h-2zM856 707h3v1h-3zM1006 707h2v1h-2zM20 708h1v1h-1zM214 708h1v1h-1zM1008 708h1v1h-1zM1043 708h2v1h-2zM213 709h1v1h-1zM1012 709h2v1h-2zM1042 709h1v1h-1zM212 710h1v1h-1zM1014 710h1v1h-1zM1036 710h3v1h-3zM1018 711h3v1h-3zM1030 711h3v1h-3zM23 712h1v1h-1zM1024 712h3v1h-3zM208 714h1v1h-1zM207 715h1v1h-1zM206 716h1v1h-1zM29 720h1v1h-1zM202 720h1v1h-1zM201 721h1v1h-1zM200 722h1v1h-1zM196 725h1v1h-1zM34 726h1v1h-1zM194 726h2v1h-2zM189 729h2v1h-2zM38 730h1v1h-1zM188 730h1v1h-1zM39 731h1v1h-1zM40 732h1v1h-1zM183 732h2v1h-2zM182 733h1v1h-1zM44 735h1v1h-1zM177 735h2v1h-2zM45 736h1v1h-1zM176 736h1v1h-1zM46 737h1v1h-1zM166 738h1v1h-1zM170 738h3v1h-3zM50 739h1v1h-1zM158 739h3v1h-3zM164 739h2v1h-2zM51 740h2v1h-2zM152 740h3v1h-3zM140 741h3v1h-3zM146 741h3v1h-3zM117 742h2v1h-2zM122 742h3v1h-3zM128 742h3v1h-3zM134 742h3v1h-3zM56 743h2v1h-2zM111 743h2v1h-2zM116 743h1v1h-1zM58 744h1v1h-1zM110 744h1v1h-1zM105 745h2v1h-2zM62 746h1v1h-1zM104 746h1v1h-1zM63 747h2v1h-2zM68 748h1v1h-1zM98 748h3v1h-3zM69 749h2v1h-2zM92 749h3v1h-3zM74 750h3v1h-3zM80 750h3v1h-3zM86 750h3v1h-3z"/>
<rect x="1624" y="667" width="2" height="1" fill="#000"/>
</g>
<text class="ax" transform="translate(0,597.3) scale(1,1.1)" textLength="127" lengthAdjust="spacingAndGlyphs">MACD(12,26,9) 0.0712 0.0788</text>
<text class="ax" transform="translate(1627,595.3) scale(1.045,1.1)" >0.2664</text>
<text class="ax" transform="translate(1627,671.3) scale(1.045,1.1)" >0.00</text>
<text class="ax" transform="translate(1627,764.3) scale(1.045,1.1)" >-0.3287</text>
<g class="c">
<line x1="2" x2="1623" y1="802.5" y2="802.5" stroke="#c0c0c0" stroke-width="1" stroke-dasharray="3 3"/>
<rect x="1624" y="802" width="2" height="1" fill="#000"/>
<line x1="2" x2="1623" y1="849.5" y2="849.5" stroke="#c0c0c0" stroke-width="1" stroke-dasharray="3 3"/>
<rect x="1624" y="849" width="2" height="1" fill="#000"/>
<line x1="2" x2="1623" y1="905.5" y2="905.5" stroke="#c0c0c0" stroke-width="1" stroke-dasharray="3 3"/>
<rect x="1624" y="905" width="2" height="1" fill="#000"/>
<path fill="#1e90ff" d="M27 894h1v2h-1zM28 891h1v3h-1zM29 888h1v3h-1zM30 885h1v3h-1zM31 883h1v2h-1zM32 880h1v3h-1zM33 877h1v3h-1zM34 874h1v3h-1zM35 872h1v2h-1zM116 869h1v2h-1zM117 871h1v2h-1zM118 873h1v2h-1zM120 876h1v2h-1zM121 878h1v2h-1zM122 880h1v2h-1zM148 877h1v2h-1zM149 875h1v2h-1zM150 873h1v2h-1zM151 871h1v2h-1zM152 869h1v2h-1zM153 867h1v2h-1zM154 865h1v2h-1zM155 863h1v2h-1zM164 861h1v2h-1zM165 859h1v2h-1zM166 857h1v2h-1zM168 854h1v2h-1zM169 852h1v2h-1zM170 850h1v2h-1zM180 846h1v2h-1zM183 842h1v2h-1zM186 838h1v2h-1zM212 837h1v2h-1zM213 835h1v2h-1zM215 832h1v2h-1zM217 829h1v2h-1zM218 827h1v2h-1zM228 830h1v2h-1zM231 834h1v2h-1zM234 838h1v2h-1zM299 843h1v2h-1zM300 840h1v3h-1zM301 838h1v2h-1zM302 835h1v3h-1zM303 832h1v3h-1zM304 829h1v3h-1zM305 827h1v2h-1zM306 824h1v3h-1zM307 822h1v2h-1zM365 828h1v2h-1zM369 833h1v2h-1zM380 837h1v2h-1zM381 839h1v2h-1zM382 841h1v2h-1zM384 844h1v2h-1zM385 846h1v2h-1zM386 848h1v2h-1zM429 860h1v2h-1zM433 855h1v2h-1zM508 848h1v2h-1zM510 845h1v2h-1zM512 842h1v2h-1zM514 839h1v2h-1zM523 832h1v2h-1zM524 830h1v2h-1zM525 828h1v2h-1zM526 826h1v2h-1zM527 824h1v2h-1zM528 822h1v2h-1zM529 820h1v2h-1zM530 818h1v2h-1zM531 816h1v2h-1zM564 831h1v2h-1zM567 827h1v2h-1zM570 823h1v2h-1zM667 818h1v3h-1zM668 821h1v4h-1zM669 825h1v5h-1zM670 830h1v4h-1zM671 834h1v5h-1zM672 839h1v4h-1zM673 843h1v5h-1zM674 848h1v4h-1zM675 852h1v3h-1zM691 860h1v2h-1zM692 862h1v2h-1zM693 864h1v2h-1zM694 866h1v2h-1zM695 868h1v2h-1zM696 870h1v2h-1zM697 872h1v2h-1zM698 874h1v2h-1zM699 876h1v2h-1zM703 872h1v2h-1zM716 864h1v2h-1zM718 861h1v2h-1zM720 858h1v2h-1zM722 855h1v2h-1zM741 844h1v2h-1zM745 849h1v2h-1zM764 856h1v2h-1zM766 859h1v2h-1zM768 862h1v2h-1zM770 865h1v2h-1zM789 869h1v2h-1zM793 864h1v2h-1zM859 859h1v2h-1zM860 856h1v3h-1zM861 854h1v2h-1zM862 851h1v3h-1zM863 848h1v3h-1zM864 845h1v3h-1zM865 843h1v2h-1zM866 840h1v3h-1zM867 838h1v2h-1zM911 848h1v2h-1zM933 864h1v2h-1zM937 869h1v2h-1zM964 870h1v2h-1zM965 872h1v2h-1zM966 874h1v2h-1zM967 876h1v2h-1zM968 878h1v2h-1zM969 880h1v2h-1zM970 882h1v2h-1zM971 884h1v2h-1zM975 880h1v2h-1zM1079 843h1v2h-1zM1109 837h1v2h-1zM1113 832h1v2h-1zM1132 836h1v2h-1zM1135 840h1v2h-1zM1138 844h1v2h-1zM1180 839h1v2h-1zM1183 843h1v2h-1zM1186 847h1v2h-1zM1195 842h1v2h-1zM1196 839h1v3h-1zM1197 836h1v3h-1zM1198 833h1v3h-1zM1199 830h1v3h-1zM1200 827h1v3h-1zM1201 824h1v3h-1zM1202 821h1v3h-1zM1203 819h1v2h-1zM1292 828h1v2h-1zM1295 824h1v2h-1zM1298 820h1v2h-1zM1315 822h1v2h-1zM1316 824h1v2h-1zM1317 826h1v2h-1zM1318 828h1v2h-1zM1319 830h1v3h-1zM1320 833h1v2h-1zM1321 835h1v2h-1zM1322 837h1v2h-1zM1323 839h1v2h-1zM1335 844h1v2h-1zM1343 844h1v2h-1zM1396 843h1v2h-1zM1397 841h1v2h-1zM1398 839h1v2h-1zM1400 836h1v2h-1zM1401 834h1v2h-1zM1402 832h1v2h-1zM1211 814h1v1h-1zM1209 815h2v1h-2zM1212 815h2v1h-2zM532 816h8v1h-8zM585 816h3v1h-3zM639 816h6v1h-6zM658 816h3v1h-3zM1207 816h2v1h-2zM1214 816h1v1h-1zM540 817h1v1h-1zM581 817h4v1h-4zM588 817h2v1h-2zM635 817h4v1h-4zM645 817h2v1h-2zM655 817h3v1h-3zM661 817h4v1h-4zM1206 817h1v1h-1zM1215 817h2v1h-2zM541 818h2v1h-2zM578 818h3v1h-3zM590 818h1v1h-1zM609 818h11v1h-11zM633 818h2v1h-2zM647 818h3v1h-3zM653 818h2v1h-2zM665 818h2v1h-2zM1204 818h2v1h-2zM1217 818h2v1h-2zM543 819h1v1h-1zM576 819h2v1h-2zM591 819h2v1h-2zM605 819h4v1h-4zM620 819h2v1h-2zM631 819h2v1h-2zM650 819h3v1h-3zM1219 819h1v1h-1zM1299 819h1v1h-1zM544 820h1v1h-1zM574 820h2v1h-2zM593 820h2v1h-2zM599 820h6v1h-6zM622 820h2v1h-2zM630 820h1v1h-1zM1220 820h2v1h-2zM1247 820h13v1h-13zM1300 820h1v1h-1zM545 821h2v1h-2zM572 821h2v1h-2zM595 821h4v1h-4zM624 821h2v1h-2zM628 821h2v1h-2zM1222 821h1v1h-1zM1239 821h8v1h-8zM1260 821h1v1h-1zM1301 821h2v1h-2zM547 822h1v1h-1zM571 822h1v1h-1zM626 822h2v1h-2zM1223 822h2v1h-2zM1233 822h6v1h-6zM1261 822h1v1h-1zM1297 822h1v1h-1zM1303 822h1v1h-1zM1314 822h1v1h-1zM308 823h1v1h-1zM548 823h1v1h-1zM1225 823h2v1h-2zM1229 823h4v1h-4zM1262 823h1v1h-1zM1296 823h1v1h-1zM1304 823h1v1h-1zM1311 823h3v1h-3zM309 824h2v1h-2zM343 824h5v1h-5zM549 824h1v1h-1zM1227 824h2v1h-2zM1263 824h2v1h-2zM1305 824h2v1h-2zM1309 824h2v1h-2zM311 825h1v1h-1zM338 825h5v1h-5zM348 825h2v1h-2zM550 825h1v1h-1zM569 825h1v1h-1zM1265 825h1v1h-1zM1307 825h2v1h-2zM219 826h2v1h-2zM312 826h1v1h-1zM321 826h4v1h-4zM335 826h3v1h-3zM350 826h2v1h-2zM361 826h3v1h-3zM551 826h1v1h-1zM568 826h1v1h-1zM1266 826h1v1h-1zM1294 826h1v1h-1zM221 827h2v1h-2zM313 827h2v1h-2zM317 827h4v1h-4zM325 827h4v1h-4zM333 827h2v1h-2zM352 827h2v1h-2zM357 827h4v1h-4zM364 827h1v1h-1zM552 827h1v1h-1zM1267 827h1v1h-1zM1293 827h1v1h-1zM223 828h3v1h-3zM315 828h2v1h-2zM329 828h4v1h-4zM354 828h3v1h-3zM553 828h1v1h-1zM1268 828h1v1h-1zM226 829h2v1h-2zM554 829h1v1h-1zM566 829h1v1h-1zM1269 829h1v1h-1zM1283 829h4v1h-4zM366 830h1v1h-1zM555 830h2v1h-2zM565 830h1v1h-1zM1115 830h4v1h-4zM1270 830h1v1h-1zM1281 830h2v1h-2zM1287 830h5v1h-5zM216 831h1v1h-1zM367 831h1v1h-1zM557 831h2v1h-2zM1114 831h1v1h-1zM1119 831h5v1h-5zM1271 831h1v1h-1zM1280 831h1v1h-1zM1403 831h2v1h-2zM229 832h1v1h-1zM368 832h1v1h-1zM559 832h3v1h-3zM1124 832h2v1h-2zM1272 832h1v1h-1zM1279 832h1v1h-1zM1405 832h2v1h-2zM230 833h1v1h-1zM562 833h2v1h-2zM1126 833h2v1h-2zM1273 833h1v1h-1zM1277 833h2v1h-2zM1407 833h3v1h-3zM214 834h1v1h-1zM521 834h2v1h-2zM1112 834h1v1h-1zM1128 834h2v1h-2zM1274 834h1v1h-1zM1276 834h1v1h-1zM1410 834h2v1h-2zM370 835h1v1h-1zM519 835h2v1h-2zM1095 835h5v1h-5zM1111 835h1v1h-1zM1130 835h2v1h-2zM1163 835h2v1h-2zM1275 835h1v1h-1zM203 836h2v1h-2zM232 836h1v1h-1zM371 836h9v1h-9zM518 836h1v1h-1zM1090 836h5v1h-5zM1100 836h2v1h-2zM1110 836h1v1h-1zM1162 836h1v1h-1zM1165 836h4v1h-4zM187 837h1v1h-1zM201 837h2v1h-2zM205 837h2v1h-2zM233 837h1v1h-1zM516 837h2v1h-2zM1087 837h3v1h-3zM1102 837h1v1h-1zM1161 837h1v1h-1zM1169 837h6v1h-6zM188 838h2v1h-2zM200 838h1v1h-1zM207 838h3v1h-3zM515 838h1v1h-1zM1085 838h2v1h-2zM1103 838h2v1h-2zM1133 838h1v1h-1zM1160 838h1v1h-1zM1175 838h5v1h-5zM1399 838h1v1h-1zM190 839h1v1h-1zM199 839h1v1h-1zM210 839h2v1h-2zM868 839h2v1h-2zM1083 839h2v1h-2zM1105 839h2v1h-2zM1108 839h1v1h-1zM1134 839h1v1h-1zM1159 839h1v1h-1zM185 840h1v1h-1zM191 840h2v1h-2zM197 840h2v1h-2zM235 840h1v1h-1zM290 840h2v1h-2zM870 840h1v1h-1zM1082 840h1v1h-1zM1107 840h1v1h-1zM1158 840h1v1h-1zM1324 840h8v1h-8zM1347 840h1v1h-1zM184 841h1v1h-1zM193 841h2v1h-2zM196 841h1v1h-1zM236 841h2v1h-2zM288 841h2v1h-2zM292 841h2v1h-2zM513 841h1v1h-1zM871 841h2v1h-2zM1081 841h1v1h-1zM1157 841h1v1h-1zM1181 841h1v1h-1zM1332 841h1v1h-1zM1346 841h1v1h-1zM1348 841h2v1h-2zM195 842h1v1h-1zM238 842h1v1h-1zM286 842h2v1h-2zM294 842h2v1h-2zM739 842h1v1h-1zM873 842h2v1h-2zM1080 842h1v1h-1zM1136 842h1v1h-1zM1156 842h1v1h-1zM1182 842h1v1h-1zM1333 842h1v1h-1zM1345 842h1v1h-1zM1350 842h2v1h-2zM239 843h2v1h-2zM249 843h6v1h-6zM284 843h2v1h-2zM296 843h2v1h-2zM383 843h1v1h-1zM737 843h2v1h-2zM740 843h1v1h-1zM875 843h1v1h-1zM1137 843h1v1h-1zM1151 843h5v1h-5zM1334 843h1v1h-1zM1344 843h1v1h-1zM1352 843h2v1h-2zM182 844h1v1h-1zM241 844h2v1h-2zM245 844h4v1h-4zM255 844h5v1h-5zM282 844h2v1h-2zM298 844h1v1h-1zM511 844h1v1h-1zM735 844h2v1h-2zM876 844h2v1h-2zM903 844h5v1h-5zM1145 844h6v1h-6zM1193 844h2v1h-2zM1354 844h3v1h-3zM181 845h1v1h-1zM243 845h2v1h-2zM260 845h1v1h-1zM280 845h2v1h-2zM734 845h1v1h-1zM878 845h1v1h-1zM898 845h5v1h-5zM908 845h1v1h-1zM1051 845h2v1h-2zM1078 845h1v1h-1zM1141 845h4v1h-4zM1184 845h1v1h-1zM1192 845h1v1h-1zM1357 845h2v1h-2zM1393 845h3v1h-3zM261 846h1v1h-1zM278 846h2v1h-2zM732 846h2v1h-2zM742 846h1v1h-1zM879 846h2v1h-2zM896 846h2v1h-2zM909 846h1v1h-1zM1035 846h1v1h-1zM1049 846h2v1h-2zM1053 846h4v1h-4zM1077 846h1v1h-1zM1139 846h2v1h-2zM1185 846h1v1h-1zM1191 846h1v1h-1zM1336 846h1v1h-1zM1342 846h1v1h-1zM1359 846h3v1h-3zM1389 846h4v1h-4zM262 847h1v1h-1zM276 847h2v1h-2zM509 847h1v1h-1zM731 847h1v1h-1zM743 847h1v1h-1zM881 847h2v1h-2zM894 847h2v1h-2zM910 847h1v1h-1zM1033 847h2v1h-2zM1036 847h2v1h-2zM1047 847h2v1h-2zM1057 847h4v1h-4zM1076 847h1v1h-1zM1189 847h2v1h-2zM1337 847h1v1h-1zM1341 847h1v1h-1zM1362 847h27v1h-27zM175 848h5v1h-5zM263 848h2v1h-2zM274 848h2v1h-2zM730 848h1v1h-1zM744 848h1v1h-1zM883 848h4v1h-4zM892 848h2v1h-2zM1032 848h1v1h-1zM1038 848h2v1h-2zM1046 848h1v1h-1zM1061 848h2v1h-2zM1073 848h3v1h-3zM1188 848h1v1h-1zM1338 848h1v1h-1zM1340 848h1v1h-1zM171 849h4v1h-4zM265 849h1v1h-1zM271 849h3v1h-3zM729 849h1v1h-1zM887 849h5v1h-5zM1031 849h1v1h-1zM1040 849h2v1h-2zM1044 849h2v1h-2zM1063 849h3v1h-3zM1069 849h4v1h-4zM1187 849h1v1h-1zM1339 849h1v1h-1zM266 850h1v1h-1zM269 850h2v1h-2zM387 850h1v1h-1zM505 850h3v1h-3zM727 850h2v1h-2zM912 850h1v1h-1zM1029 850h2v1h-2zM1042 850h2v1h-2zM1066 850h3v1h-3zM267 851h2v1h-2zM388 851h2v1h-2zM501 851h4v1h-4zM726 851h1v1h-1zM746 851h1v1h-1zM913 851h1v1h-1zM1028 851h1v1h-1zM390 852h2v1h-2zM439 852h5v1h-5zM498 852h3v1h-3zM725 852h1v1h-1zM747 852h10v1h-10zM914 852h1v1h-1zM1023 852h5v1h-5zM392 853h2v1h-2zM435 853h4v1h-4zM444 853h2v1h-2zM496 853h2v1h-2zM724 853h1v1h-1zM757 853h2v1h-2zM915 853h2v1h-2zM1017 853h6v1h-6zM394 854h2v1h-2zM434 854h1v1h-1zM446 854h2v1h-2zM465 854h4v1h-4zM481 854h4v1h-4zM494 854h2v1h-2zM676 854h1v1h-1zM723 854h1v1h-1zM759 854h3v1h-3zM917 854h4v1h-4zM1013 854h4v1h-4zM396 855h2v1h-2zM448 855h2v1h-2zM461 855h4v1h-4zM469 855h4v1h-4zM477 855h4v1h-4zM485 855h4v1h-4zM492 855h2v1h-2zM677 855h4v1h-4zM762 855h2v1h-2zM851 855h1v1h-1zM921 855h3v1h-3zM1011 855h2v1h-2zM167 856h1v1h-1zM398 856h2v1h-2zM450 856h11v1h-11zM473 856h4v1h-4zM489 856h3v1h-3zM681 856h3v1h-3zM849 856h2v1h-2zM852 856h2v1h-2zM924 856h1v1h-1zM1010 856h1v1h-1zM400 857h2v1h-2zM432 857h1v1h-1zM684 857h2v1h-2zM721 857h1v1h-1zM847 857h2v1h-2zM854 857h1v1h-1zM925 857h1v1h-1zM1009 857h1v1h-1zM402 858h2v1h-2zM431 858h1v1h-1zM686 858h2v1h-2zM765 858h1v1h-1zM846 858h1v1h-1zM855 858h2v1h-2zM926 858h1v1h-1zM1007 858h2v1h-2zM404 859h1v1h-1zM430 859h1v1h-1zM688 859h2v1h-2zM844 859h2v1h-2zM857 859h2v1h-2zM927 859h2v1h-2zM1006 859h1v1h-1zM405 860h1v1h-1zM419 860h2v1h-2zM690 860h1v1h-1zM719 860h1v1h-1zM843 860h1v1h-1zM929 860h1v1h-1zM1005 860h1v1h-1zM406 861h1v1h-1zM417 861h2v1h-2zM421 861h2v1h-2zM767 861h1v1h-1zM841 861h2v1h-2zM930 861h1v1h-1zM1004 861h1v1h-1zM407 862h1v1h-1zM416 862h1v1h-1zM423 862h3v1h-3zM428 862h1v1h-1zM795 862h2v1h-2zM840 862h1v1h-1zM931 862h1v1h-1zM999 862h5v1h-5zM156 863h8v1h-8zM408 863h1v1h-1zM415 863h1v1h-1zM426 863h2v1h-2zM717 863h1v1h-1zM794 863h1v1h-1zM797 863h4v1h-4zM839 863h1v1h-1zM932 863h1v1h-1zM995 863h4v1h-4zM409 864h1v1h-1zM413 864h2v1h-2zM769 864h1v1h-1zM801 864h12v1h-12zM837 864h2v1h-2zM993 864h2v1h-2zM410 865h1v1h-1zM412 865h1v1h-1zM813 865h4v1h-4zM836 865h1v1h-1zM991 865h2v1h-2zM51 866h1v1h-1zM411 866h1v1h-1zM713 866h3v1h-3zM792 866h1v1h-1zM817 866h19v1h-19zM934 866h1v1h-1zM953 866h4v1h-4zM990 866h1v1h-1zM49 867h2v1h-2zM52 867h2v1h-2zM709 867h4v1h-4zM771 867h1v1h-1zM791 867h1v1h-1zM935 867h1v1h-1zM949 867h4v1h-4zM957 867h2v1h-2zM988 867h2v1h-2zM47 868h2v1h-2zM54 868h1v1h-1zM79 868h5v1h-5zM98 868h3v1h-3zM113 868h3v1h-3zM707 868h2v1h-2zM772 868h1v1h-1zM790 868h1v1h-1zM936 868h1v1h-1zM946 868h3v1h-3zM959 868h3v1h-3zM987 868h1v1h-1zM46 869h1v1h-1zM55 869h2v1h-2zM75 869h4v1h-4zM84 869h2v1h-2zM96 869h2v1h-2zM101 869h4v1h-4zM109 869h4v1h-4zM706 869h1v1h-1zM773 869h2v1h-2zM944 869h2v1h-2zM962 869h2v1h-2zM986 869h1v1h-1zM44 870h2v1h-2zM57 870h2v1h-2zM73 870h2v1h-2zM86 870h2v1h-2zM94 870h2v1h-2zM105 870h4v1h-4zM705 870h1v1h-1zM775 870h1v1h-1zM942 870h2v1h-2zM985 870h1v1h-1zM39 871h5v1h-5zM59 871h2v1h-2zM71 871h2v1h-2zM88 871h2v1h-2zM92 871h2v1h-2zM704 871h1v1h-1zM776 871h1v1h-1zM788 871h1v1h-1zM938 871h1v1h-1zM940 871h2v1h-2zM984 871h1v1h-1zM36 872h3v1h-3zM61 872h2v1h-2zM70 872h1v1h-1zM90 872h2v1h-2zM777 872h2v1h-2zM783 872h5v1h-5zM939 872h1v1h-1zM983 872h1v1h-1zM63 873h3v1h-3zM68 873h2v1h-2zM779 873h4v1h-4zM982 873h1v1h-1zM66 874h2v1h-2zM138 874h2v1h-2zM702 874h1v1h-1zM981 874h1v1h-1zM119 875h1v1h-1zM135 875h3v1h-3zM140 875h2v1h-2zM701 875h1v1h-1zM980 875h1v1h-1zM133 876h2v1h-2zM142 876h1v1h-1zM700 876h1v1h-1zM979 876h1v1h-1zM131 877h2v1h-2zM143 877h2v1h-2zM978 877h1v1h-1zM129 878h2v1h-2zM145 878h2v1h-2zM977 878h1v1h-1zM127 879h2v1h-2zM147 879h1v1h-1zM976 879h1v1h-1zM126 880h1v1h-1zM124 881h2v1h-2zM0 882h1v1h-1zM123 882h1v1h-1zM974 882h1v1h-1zM1 883h3v1h-3zM973 883h1v1h-1zM4 884h1v1h-1zM972 884h1v1h-1zM5 885h2v1h-2zM7 886h1v1h-1zM8 887h1v1h-1zM9 888h2v1h-2zM11 889h2v1h-2zM13 890h4v1h-4zM17 891h3v1h-3zM20 892h2v1h-2zM22 893h2v1h-2zM24 894h2v1h-2zM26 895h1v1h-1z"/>
</g>
<text class="ax" transform="translate(0,782.3) scale(1,1.1)" textLength="67" lengthAdjust="spacingAndGlyphs">RSI(14) 60.1010</text>
<text class="ax" transform="translate(1627,780.3) scale(1.045,1.1)" >100</text>
<text class="ax" transform="translate(1627,806.3) scale(1.045,1.1)" >80</text>
<text class="ax" transform="translate(1627,853.3) scale(1.045,1.1)" >50</text>
<text class="ax" transform="translate(1627,909.3) scale(1.045,1.1)" >15</text>
<text class="ax" transform="translate(1627,926.3) scale(1.045,1.1)" >0</text>
<g class="c" fill="#000">
<rect x="59" y="930" width="1" height="3"/>
<rect x="123" y="930" width="1" height="3"/>
<rect x="187" y="930" width="1" height="3"/>
<rect x="251" y="930" width="1" height="3"/>
<rect x="315" y="930" width="1" height="3"/>
<rect x="379" y="930" width="1" height="3"/>
<rect x="443" y="930" width="1" height="3"/>
<rect x="507" y="930" width="1" height="3"/>
<rect x="571" y="930" width="1" height="3"/>
<rect x="635" y="930" width="1" height="3"/>
<rect x="699" y="930" width="1" height="3"/>
<rect x="763" y="930" width="1" height="3"/>
<rect x="827" y="930" width="1" height="3"/>
<rect x="891" y="930" width="1" height="3"/>
<rect x="955" y="930" width="1" height="3"/>
<rect x="1019" y="930" width="1" height="3"/>
<rect x="1083" y="930" width="1" height="3"/>
<rect x="1147" y="930" width="1" height="3"/>
<rect x="1211" y="930" width="1" height="3"/>
<rect x="1275" y="930" width="1" height="3"/>
<rect x="1339" y="930" width="1" height="3"/>
<rect x="1403" y="930" width="1" height="3"/>
</g>
<text class="ax" transform="translate(-6,942.3) scale(1.045,1.1)" >20 Jun 2019</text>
<text class="ax" transform="translate(58,942.3) scale(1.045,1.1)" >21 Jun 16:00</text>
<text class="ax" transform="translate(122,942.3) scale(1.045,1.1)" >25 Jun 00:00</text>
<text class="ax" transform="translate(186,942.3) scale(1.045,1.1)" >26 Jun 08:00</text>
<text class="ax" transform="translate(250,942.3) scale(1.045,1.1)" >27 Jun 16:00</text>
<text class="ax" transform="translate(314,942.3) scale(1.045,1.1)" >1 Jul 00:00</text>
<text class="ax" transform="translate(378,942.3) scale(1.045,1.1)" >2 Jul 08:00</text>
<text class="ax" transform="translate(442,942.3) scale(1.045,1.1)" >3 Jul 16:00</text>
<text class="ax" transform="translate(506,942.3) scale(1.045,1.1)" >5 Jul 00:00</text>
<text class="ax" transform="translate(570,942.3) scale(1.045,1.1)" >8 Jul 08:00</text>
<text class="ax" transform="translate(634,942.3) scale(1.045,1.1)" >9 Jul 16:00</text>
<text class="ax" transform="translate(698,942.3) scale(1.045,1.1)" >11 Jul 00:00</text>
<text class="ax" transform="translate(762,942.3) scale(1.045,1.1)" >12 Jul 08:00</text>
<text class="ax" transform="translate(826,942.3) scale(1.045,1.1)" >15 Jul 16:00</text>
<text class="ax" transform="translate(890,942.3) scale(1.045,1.1)" >17 Jul 00:00</text>
<text class="ax" transform="translate(954,942.3) scale(1.045,1.1)" >18 Jul 08:00</text>
<text class="ax" transform="translate(1018,942.3) scale(1.045,1.1)" >19 Jul 16:00</text>
<text class="ax" transform="translate(1082,942.3) scale(1.045,1.1)" >23 Jul 00:00</text>
<text class="ax" transform="translate(1146,942.3) scale(1.045,1.1)" >24 Jul 08:00</text>
<text class="ax" transform="translate(1210,942.3) scale(1.045,1.1)" >25 Jul 16:00</text>
<text class="ax" transform="translate(1274,942.3) scale(1.045,1.1)" >29 Jul 00:00</text>
<text class="ax" transform="translate(1338,942.3) scale(1.045,1.1)" >30 Jul 08:00</text>
<text class="ax" transform="translate(1402,942.3) scale(1.045,1.1)" >31 Jul 16:00</text>
<path d="M0 39.5l3-3.5 3 3.5z" fill="#000"/>
<text class="ax" transform="translate(10.7,41) scale(1,1.1)" xml:space="preserve" textLength="199.8" lengthAdjust="spacingAndGlyphs">USDJPY-,H4  108.779 108.818 108.741 108.754</text>
<defs><linearGradient id="gb" x1="0" y1="0" x2="0" y2="1"><stop offset="0" stop-color="#fa5050"/><stop offset="1" stop-color="#e03434"/></linearGradient>
<linearGradient id="gp" x1="0" y1="0" x2="0" y2="1"><stop offset="0" stop-color="#de2c2c"/><stop offset="1" stop-color="#b20202"/></linearGradient>
<linearGradient id="gs" x1="0" y1="0" x2="0" y2="1"><stop offset="0" stop-color="#f2f2f2"/><stop offset="1" stop-color="#e4e4e4"/></linearGradient></defs>
<g class="c">
<rect x="0" y="48" width="219" height="65" fill="#fff"/>
<rect x="0" y="49" width="50" height="24" fill="#c01818"/><rect x="0" y="50" width="49" height="23" fill="url(#gb)"/>
<rect x="165" y="49" width="52" height="24" fill="#c01818"/><rect x="166" y="50" width="50" height="23" fill="url(#gb)"/>
<rect x="0" y="73" width="107" height="40" fill="#ac0404"/><rect x="0" y="73" width="106" height="39" fill="url(#gp)"/>
<rect x="109" y="73" width="108" height="40" fill="#ac0404"/><rect x="110" y="73" width="106" height="39" fill="url(#gp)"/>
<rect x="2" y="72" width="44" height="1" fill="#a40808"/><rect x="2" y="73" width="44" height="1" fill="#f07c7c"/>
<rect x="169" y="72" width="44" height="1" fill="#a40808"/><rect x="169" y="73" width="44" height="1" fill="#f07c7c"/>
<rect x="52" y="49" width="111" height="22" fill="#a8a8a8"/><rect x="53" y="50" width="109" height="20" fill="#fff"/>
<rect x="53" y="50" width="20" height="20" fill="url(#gs)"/><rect x="142" y="50" width="20" height="20" fill="url(#gs)"/>
<rect x="73" y="50" width="1" height="20" fill="#b4b4b4"/><rect x="141" y="50" width="1" height="20" fill="#b4b4b4"/>
<path fill="#000" d="M60 58h6v1h-6zM61 59h4v1h-4zM62 60h2v1h-2zM149 60h6v1h-6zM150 59h4v1h-4zM151 58h2v1h-2z"/>
</g>
<text x="138.3" y="63.9" font-size="13" text-anchor="end" fill="#000" textLength="24.2" lengthAdjust="spacingAndGlyphs">1.00</text>
<text x="10" y="64.7" font-size="11.6" fill="#fff" textLength="26" lengthAdjust="spacingAndGlyphs">SELL</text>
<text x="178.4" y="64.7" font-size="11.6" fill="#fff" textLength="23.4" lengthAdjust="spacingAndGlyphs">BUY</text>
<text x="21.5" y="103.5" font-size="12" fill="#fff" font-weight="bold" textLength="21" lengthAdjust="spacingAndGlyphs">108</text>
<text x="44.5" y="103.7" font-size="33.5" fill="#fff" textLength="35.5" lengthAdjust="spacingAndGlyphs">75</text>
<text x="85" y="87.7" font-size="12.6" fill="#fff" stroke="#fff" stroke-width="0.3">4</text>
<text x="131.5" y="103.5" font-size="12" fill="#fff" font-weight="bold" textLength="21" lengthAdjust="spacingAndGlyphs">108</text>
<text x="155.8" y="103.7" font-size="33.5" fill="#fff" textLength="36.2" lengthAdjust="spacingAndGlyphs">78</text>
<text x="196" y="87.7" font-size="12.6" fill="#fff" stroke="#fff" stroke-width="0.3">3</text>
<g id="toolbar">
<defs><pattern id="ck" width="2" height="2" patternUnits="userSpaceOnUse"><rect width="2" height="2" fill="#f0f0f0"/><rect width="1" height="1" fill="#fff"/><rect x="1" y="1" width="1" height="1" fill="#fff"/></pattern></defs>
<g class="c"><rect x="0" y="0" width="1670" height="25" fill="#f0f0f0"/><rect x="0" y="24" width="1670" height="1" fill="#f7f7f7"/><rect x="0" y="25" width="1670" height="1" fill="#a6a6a6"/><rect x="0" y="26" width="1670" height="1" fill="#6a6a6a"/><rect x="0" y="27" width="1670" height="2" fill="#fff"/>
<rect x="220" y="0" width="1" height="25" fill="#a0a0a0"/><rect x="221" y="0" width="1" height="25" fill="#fff"/>
<rect x="588" y="0" width="1" height="25" fill="#a0a0a0"/><rect x="589" y="0" width="1" height="25" fill="#fff"/>
<rect x="894" y="0" width="1" height="25" fill="#a0a0a0"/><rect x="895" y="0" width="1" height="25" fill="#fff"/>
<rect x="1155" y="0" width="1" height="25" fill="#a0a0a0"/><rect x="1156" y="0" width="1" height="25" fill="#fff"/>
<rect x="315" y="2" width="1" height="21" fill="#a0a0a0"/>
<rect x="405" y="2" width="1" height="21" fill="#a0a0a0"/>
<rect x="467" y="2" width="1" height="21" fill="#a0a0a0"/>
<rect x="655" y="2" width="1" height="21" fill="#a0a0a0"/>
<rect x="224" y="3" width="3" height="1" fill="#a0a0a0"/>
<rect x="224" y="5" width="3" height="1" fill="#a0a0a0"/>
<rect x="224" y="7" width="3" height="1" fill="#a0a0a0"/>
<rect x="224" y="9" width="3" height="1" fill="#a0a0a0"/>
<rect x="224" y="11" width="3" height="1" fill="#a0a0a0"/>
<rect x="224" y="13" width="3" height="1" fill="#a0a0a0"/>
<rect x="224" y="15" width="3" height="1" fill="#a0a0a0"/>
<rect x="224" y="17" width="3" height="1" fill="#a0a0a0"/>
<rect x="224" y="19" width="3" height="1" fill="#a0a0a0"/>
<rect x="224" y="21" width="3" height="1" fill="#a0a0a0"/>
<rect x="592" y="3" width="3" height="1" fill="#a0a0a0"/>
<rect x="592" y="5" width="3" height="1" fill="#a0a0a0"/>
<rect x="592" y="7" width="3" height="1" fill="#a0a0a0"/>
<rect x="592" y="9" width="3" height="1" fill="#a0a0a0"/>
<rect x="592" y="11" width="3" height="1" fill="#a0a0a0"/>
<rect x="592" y="13" width="3" height="1" fill="#a0a0a0"/>
<rect x="592" y="15" width="3" height="1" fill="#a0a0a0"/>
<rect x="592" y="17" width="3" height="1" fill="#a0a0a0"/>
<rect x="592" y="19" width="3" height="1" fill="#a0a0a0"/>
<rect x="592" y="21" width="3" height="1" fill="#a0a0a0"/>
<rect x="898" y="3" width="3" height="1" fill="#a0a0a0"/>
<rect x="898" y="5" width="3" height="1" fill="#a0a0a0"/>
<rect x="898" y="7" width="3" height="1" fill="#a0a0a0"/>
<rect x="898" y="9" width="3" height="1" fill="#a0a0a0"/>
<rect x="898" y="11" width="3" height="1" fill="#a0a0a0"/>
<rect x="898" y="13" width="3" height="1" fill="#a0a0a0"/>
<rect x="898" y="15" width="3" height="1" fill="#a0a0a0"/>
<rect x="898" y="17" width="3" height="1" fill="#a0a0a0"/>
<rect x="898" y="19" width="3" height="1" fill="#a0a0a0"/>
<rect x="898" y="21" width="3" height="1" fill="#a0a0a0"/>
<rect x="258" y="1" width="25" height="22" fill="url(#ck)"/><rect x="258" y="1" width="25" height="1" fill="#a0a0a0"/><rect x="258" y="1" width="1" height="22" fill="#a0a0a0"/><rect x="282" y="2" width="1" height="21" fill="#fff"/><rect x="258" y="23" width="25" height="1" fill="#fff"/>
<rect x="410" y="1" width="25" height="22" fill="url(#ck)"/><rect x="410" y="1" width="25" height="1" fill="#a0a0a0"/><rect x="410" y="1" width="1" height="22" fill="#a0a0a0"/><rect x="434" y="2" width="1" height="21" fill="#fff"/><rect x="410" y="23" width="25" height="1" fill="#fff"/>
<rect x="438" y="1" width="25" height="22" fill="url(#ck)"/><rect x="438" y="1" width="25" height="1" fill="#a0a0a0"/><rect x="438" y="1" width="1" height="22" fill="#a0a0a0"/><rect x="462" y="2" width="1" height="21" fill="#fff"/><rect x="438" y="23" width="25" height="1" fill="#fff"/>
<rect x="598" y="1" width="25" height="22" fill="url(#ck)"/><rect x="598" y="1" width="25" height="1" fill="#a0a0a0"/><rect x="598" y="1" width="1" height="22" fill="#a0a0a0"/><rect x="622" y="2" width="1" height="21" fill="#fff"/><rect x="598" y="23" width="25" height="1" fill="#fff"/>
<rect x="1044" y="1" width="25" height="22" fill="url(#ck)"/><rect x="1044" y="1" width="25" height="1" fill="#a0a0a0"/><rect x="1044" y="1" width="1" height="22" fill="#a0a0a0"/><rect x="1068" y="2" width="1" height="21" fill="#fff"/><rect x="1044" y="23" width="25" height="1" fill="#fff"/>
</g>
<path d="M-5 5.5h7.5l3.5 3.5v8h-11z" fill="#fff" stroke="#8c8c8c" stroke-width="1"/><path d="M2.5 5.5v3.5h3.5" fill="#e8e8e8" stroke="#8c8c8c"/><rect x="-3" y="12" width="4" height="1" fill="#b0b0b0"/>
<path d="M2.3 11.5h3.4v4h4v3.3h-4v4h-3.4v-4h-4.5v-3.3h4.5z" fill="#14e83c" stroke="#0c8c14" stroke-width="0.9"/>
<text transform="translate(12.6,16.2) scale(1.04,1.05)" x="0" y="0" font-size="12" fill="#000" style="font-family:'Liberation Sans','Noto Sans CJK SC',sans-serif">新订单</text>
<defs><linearGradient id="gold" x1="0" y1="0" x2="1" y2="1"><stop offset="0" stop-color="#fbe060"/><stop offset="0.45" stop-color="#f4c81c"/><stop offset="1" stop-color="#c88c14"/></linearGradient><linearGradient id="cl" x1="0" y1="0" x2="0" y2="1"><stop offset="0" stop-color="#fbfdff"/><stop offset="1" stop-color="#c4d0e6"/></linearGradient><radialGradient id="sg" cx="0.5" cy="0.5" r="0.5"><stop offset="0" stop-color="#d8ecd8"/><stop offset="1" stop-color="#6cb46c"/></radialGradient></defs>
<path d="M66.3 6L75.9 12.7L76.8 14.6L68.7 20.8L61.2 15.4Q63.5 11 66.3 6Z" fill="#c08818" stroke="#a06410" stroke-width="0.7"/><path d="M66.4 6.7L75.1 12.8L68.3 18.1L62.3 14Q64 10.5 66.4 6.7Z" fill="url(#gold)"/><path d="M68.7 19.4L76.2 13.7M68.7 20.3L76.5 14.4" stroke="#ecdca4" stroke-width="0.5" fill="none"/>
<path d="M91.3 6.5L94.5 5h7.5v9h-10.7z" fill="#18a0f4" stroke="#0c7cd4" stroke-width="0.6"/><path d="M91.3 6.5L94.5 5v9h-3.2z" fill="#6cc8ff"/><path d="M94.5 5h7.5l-1 1.3h-6.5z" fill="#8cd4ff"/><rect x="96.2" y="9.3" width="4.5" height="1.4" fill="#e4f4ff"/>
<path d="M92 20.5c-3.6 0-3.8-4.3-0.6-4.6 0.3-2.6 4-3.4 5.6-1.4 1.6-1.3 4.6-0.6 4.6 1.7 3.8 0 3.8 4.3 0.4 4.3z" fill="url(#cl)" stroke="#5474b4" stroke-width="0.8"/>
<path d="M125 12.7L128.8 6A7.7 7.7 0 0 1 125.5 20.4Z" fill="url(#sg)" opacity="0.5"/>
<g fill="none"><circle cx="125" cy="12.7" r="7.7" stroke="#a4bce8" stroke-width="1"/><circle cx="125" cy="12.7" r="4.7" stroke="#4878d8" stroke-width="1.2"/>
<path d="M128.8 6a7.7 7.7 0 0 1-3.3 14.4" stroke="#5cac5c" stroke-width="1.3"/><path d="M127.3 8.6a4.7 4.7 0 0 1-1.8 8.8" stroke="#5cac5c" stroke-width="1.2"/></g>
<circle cx="125" cy="12.6" r="1.9" fill="#2c5cd4"/><rect x="124.6" y="13.5" width="1.5" height="7.3" fill="#1ca41c"/>
<path d="M145 12l13.5-1.5-4 7.5-4 3z" fill="#f4d43c" stroke="#c89c18" stroke-width="0.7"/><ellipse cx="152" cy="9.7" rx="8" ry="2.6" fill="#48a4e0" stroke="#2878b8" stroke-width="0.7"/><path d="M147.5 9.5c0-6 9-6 9 0z" fill="#58b4f0" stroke="#2878b8" stroke-width="0.7"/>
<circle cx="156.3" cy="16.7" r="4.3" fill="#d82818"/><rect x="154.6" y="15" width="3.4" height="3.4" fill="#fff"/>
<text transform="translate(164.5,16.2) scale(1.03,1.05)" x="0" y="0" font-size="12" fill="#000" style="font-family:'Liberation Sans','Noto Sans CJK SC',sans-serif">自动交易</text>
<g class="c" fill="#505050"><rect x="238" y="7" width="1" height="14"/><rect x="236" y="18" width="14" height="1"/><rect x="237" y="8" width="3" height="2"/><rect x="247" y="17" width="2" height="3"/></g>
<g class="c" fill="#109010"><rect x="244" y="8" width="1" height="9"/><rect x="245" y="9" width="2" height="1"/><rect x="242" y="15" width="2" height="1"/></g>
<g class="c" fill="#505050"><rect x="266" y="7" width="1" height="14"/><rect x="264" y="18" width="14" height="1"/><rect x="265" y="8" width="3" height="2"/><rect x="275" y="17" width="2" height="3"/></g>
<g class="c"><rect x="272" y="5" width="1" height="12" fill="#109010"/><rect x="270" y="7" width="5" height="8" fill="#109010"/><rect x="271" y="8" width="3" height="6" fill="#3ce03c"/></g>
<g class="c" fill="#505050"><rect x="294" y="7" width="1" height="14"/><rect x="292" y="18" width="14" height="1"/><rect x="293" y="8" width="3" height="2"/><rect x="303" y="17" width="2" height="3"/></g>
<path d="M293 16c3-2 4-6 6-6s4 3 6 4" fill="none" stroke="#30a030" stroke-width="1.2"/>
<path d="M334.2 15l4.3 4.3" stroke="#d0a420" stroke-width="3" stroke-linecap="round"/><circle cx="330" cy="10.8" r="5.5" fill="#d8ecfc" stroke="#3a7cd0" stroke-width="1.3"/>
<rect x="327" y="10" width="6" height="1.6" fill="#2a6cb8"/>
<rect x="329.2" y="7.8" width="1.6" height="6" fill="#2a6cb8"/>
<path d="M362.2 15l4.3 4.3" stroke="#d0a420" stroke-width="3" stroke-linecap="round"/><circle cx="358" cy="10.8" r="5.5" fill="#d8ecfc" stroke="#3a7cd0" stroke-width="1.3"/>
<rect x="355" y="10" width="6" height="1.6" fill="#2a6cb8"/>
<g class="c"><rect x="380" y="5" width="8" height="8" fill="#3aa020"/><rect x="388" y="5" width="8" height="8" fill="#2858d8"/><rect x="380" y="13" width="8" height="8" fill="#2858d8"/><rect x="388" y="13" width="8" height="8" fill="#3aa020"/>
<rect x="381" y="8" width="6" height="4" fill="#f0f4ff"/>
<rect x="389" y="8" width="6" height="4" fill="#f0f4ff"/>
<rect x="381" y="16" width="6" height="4" fill="#f0f4ff"/>
<rect x="389" y="16" width="6" height="4" fill="#f0f4ff"/>
</g>
<g class="c" fill="#505050"><rect x="418" y="7" width="1" height="14"/><rect x="416" y="18" width="14" height="1"/><rect x="417" y="8" width="3" height="2"/><rect x="427" y="17" width="2" height="3"/></g>
<path d="M423 9l4 3.5-4 3.5z" fill="#30c030" stroke="#109010" stroke-width="0.8"/>
<g class="c" fill="#505050"><rect x="446" y="7" width="1" height="14"/><rect x="444" y="18" width="14" height="1"/><rect x="445" y="8" width="3" height="2"/><rect x="455" y="17" width="2" height="3"/></g>
<rect class="c" x="452" y="7" width="1" height="10" fill="#2878c8"/><path d="M458 12.5h-4m2-2l-2 2 2 2" stroke="#d84010" stroke-width="1.2" fill="none"/>
<path d="M477.5 5.5h7l3 3v9.5h-10z" fill="#fff" stroke="#909090"/><path d="M481 14.5h3.5v-3.5h4v3.5h3.5v4h-3.5v3.5h-4v-3.5h-3.5z" fill="#2fc82f" stroke="#0f8a0f" stroke-width="0.8"/>
<path d="M499 12h5l-2.5 3z" fill="#000"/>
<circle cx="523" cy="13" r="6.9" fill="#f4f6fa" stroke="#2a6ad0" stroke-width="2.3"/><path d="M523 9v4.5h3" stroke="#404040" stroke-width="1.2" fill="none"/>
<path d="M538 12h5l-2.5 3z" fill="#000"/>
<rect x="554.5" y="6.5" width="15" height="13" fill="#fff" stroke="#3a7cd0" stroke-width="1"/><rect x="554" y="6" width="16" height="2.5" fill="#3a7cd0"/><path d="M556 11.5l3-1 3 0.5 3-1.5 3 0.5" stroke="#c03010" stroke-width="1.2" fill="none"/><path d="M556 17.5l3-1 3 0.5 3-2 3 2" stroke="#30a030" stroke-width="1.2" fill="none"/><rect x="555" y="13" width="14" height="1" fill="#3a7cd0"/>
<path d="M577 12h5l-2.5 3z" fill="#000"/>
<path d="M606 6v12l3-2.8 2.2 5 2-0.9-2.2-4.8h4.2z" fill="#505050"/>
<g class="c" fill="#505050"><rect x="638" y="6" width="1" height="15"/><rect x="631" y="13" width="15" height="1"/><rect x="638" y="13" width="1" height="1" fill="#f0f0f0"/></g>
<g class="c" fill="#505050"><rect x="672" y="7" width="1" height="13"/><rect x="695" y="13" width="12" height="1"/></g><path d="M723 20l12-12.5" stroke="#505050" stroke-width="1.1"/>
<g stroke="#505050" stroke-width="1" fill="none"><path d="M749 15l14-8M751 19l14-8M749 12l3 8M754 10l3 8M759 7l3 8"/></g><text x="759.5" y="22" font-size="7" font-weight="bold" fill="#404040">E</text>
<g stroke="#505050" stroke-width="1" stroke-dasharray="1 1" class="c"><path d="M778 6.5h13M778 10.5h13M778 13.5h13M778 17.5h9"/></g><text x="788" y="22" font-size="7" font-weight="bold" fill="#404040">F</text>
<text x="808.3" y="18" font-size="12.5" fill="#606060" stroke="#606060" stroke-width="0.3">A</text>
<rect x="835" y="7" width="11.5" height="12.5" fill="none" stroke="#505050" stroke-width="1" stroke-dasharray="1 1" class="c"/><text x="837.3" y="17.7" font-size="11" fill="#505050" font-weight="bold">T</text>
<path d="M862 10.5l3.5-3.5 3.5 3.5zM869 17l3.5 3.5 3.5-3.5z" fill="#404040"/><path d="M864 14l2 2 6-6" stroke="#404040" stroke-width="1.3" fill="none"/>
<path d="M883 12h5l-2.5 3z" fill="#000"/>
<text x="916" y="17" font-size="9.3" text-anchor="middle" fill="#404040">M1</text>
<text x="944" y="17" font-size="9.3" text-anchor="middle" fill="#404040">M5</text>
<text x="972.5" y="17" font-size="9.3" text-anchor="middle" fill="#404040">M15</text>
<text x="1000.4" y="17" font-size="9.3" text-anchor="middle" fill="#404040">M30</text>
<text x="1028.4" y="17" font-size="9.3" text-anchor="middle" fill="#404040">H1</text>
<text x="1056" y="17" font-size="9.3" text-anchor="middle" fill="#404040">H4</text>
<text x="1084.4" y="17" font-size="9.3" text-anchor="middle" fill="#404040">D1</text>
<text x="1113" y="17" font-size="9.3" text-anchor="middle" fill="#404040">W1</text>
<text x="1140" y="17" font-size="9.3" text-anchor="middle" fill="#404040">MN</text>
<path d="M1622.5 13.8l-4.3 3.8" stroke="#2858c8" stroke-width="2.4" stroke-linecap="round"/><circle cx="1625.5" cy="10.6" r="4" fill="#f4f8ff" stroke="#2858c8" stroke-width="1.3"/>
<path d="M1653 6c5-3.5 12-1 11.5 4-0.3 3-3 4.5-5 4.8l1.5 2.2-4-2c-5-0.5-7-5-4-9z" fill="#e8e8e8" stroke="#a8a8a8" stroke-width="0.9"/><path d="M1645 11c3-2.5 8.5-1 8.5 3 0 3-2.5 4.2-5 4.3l-2 2 0.3-2.3c-3.5-0.8-4.5-4.5-1.8-7z" fill="#ececec" stroke="#a0a0a0" stroke-width="0.9"/>
</g>
<rect class="c" x="1669" y="27" width="1" height="920" fill="#c8c8c8"/>
</svg></body></html>
